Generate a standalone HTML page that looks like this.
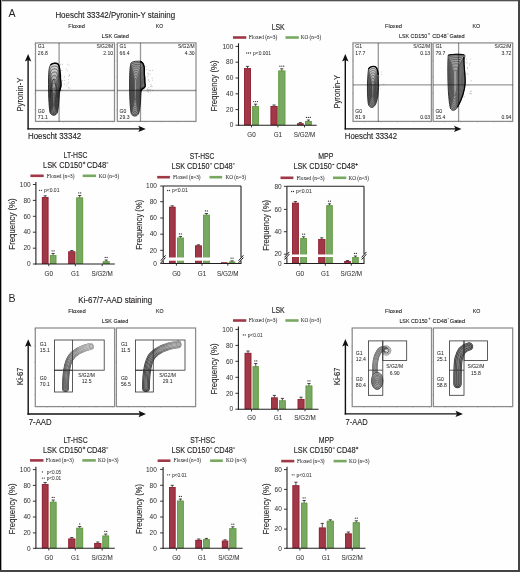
<!DOCTYPE html>
<html><head><meta charset="utf-8"><style>
html,body{margin:0;padding:0;background:#fff;overflow:hidden;width:520px;height:572px;}
svg{display:block;font-family:"Liberation Sans",sans-serif;will-change:transform;}
</style></head><body>
<svg width="520" height="572" viewBox="0 0 520 572">
<rect width="520" height="572" fill="#fefefe"/>
<defs><linearGradient id="gA" x1="0" y1="0" x2="0" y2="1"><stop offset="0" stop-color="#e0e0e0"/><stop offset="0.3" stop-color="#b0b0b0"/><stop offset="0.6" stop-color="#909090"/><stop offset="1" stop-color="#999"/></linearGradient><linearGradient id="gB" x1="0" y1="0" x2="0" y2="1"><stop offset="0" stop-color="#aaa"/><stop offset="0.5" stop-color="#999"/><stop offset="1" stop-color="#a0a0a0"/></linearGradient><linearGradient id="fade1" gradientUnits="userSpaceOnUse" x1="66" y1="372" x2="93" y2="346"><stop offset="0" stop-color="#fff" stop-opacity="0"/><stop offset="0.35" stop-color="#fff" stop-opacity="0.15"/><stop offset="1" stop-color="#fff" stop-opacity="0.6"/></linearGradient><linearGradient id="fade2" gradientUnits="userSpaceOnUse" x1="147" y1="370" x2="180" y2="344"><stop offset="0" stop-color="#fff" stop-opacity="0"/><stop offset="0.4" stop-color="#fff" stop-opacity="0.1"/><stop offset="1" stop-color="#fff" stop-opacity="0.5"/></linearGradient></defs>
<text x="8.40" y="16.50" font-size="10.6" text-anchor="start" fill="#231f20">A</text>
<text x="8.40" y="301.50" font-size="10.6" text-anchor="start" fill="#231f20">B</text>
<text x="115.30" y="18.00" font-size="9.0" text-anchor="middle" fill="#231f20" textLength="119.80" lengthAdjust="spacingAndGlyphs" stroke="#231f20" stroke-width="0.13">Hoescht 33342/Pyronin-Y staining</text>
<text x="76.60" y="27.80" font-size="6.2" text-anchor="middle" fill="#222" textLength="16.70" lengthAdjust="spacingAndGlyphs" stroke="#222" stroke-width="0.1">Floxed</text>
<text x="159.50" y="27.80" font-size="6.2" text-anchor="middle" fill="#222" textLength="7.30" lengthAdjust="spacingAndGlyphs" stroke="#222" stroke-width="0.1">KO</text>
<text x="115.30" y="38.20" font-size="6.2" text-anchor="middle" fill="#222" textLength="27.20" lengthAdjust="spacingAndGlyphs" stroke="#222" stroke-width="0.1">LSK Gated</text>
<circle cx="60.9" cy="87.7" r="0.45" fill="#8a8a8a"/>
<circle cx="67.5" cy="71.1" r="0.45" fill="#8a8a8a"/>
<circle cx="64.7" cy="76.6" r="0.45" fill="#8a8a8a"/>
<circle cx="66.3" cy="86.1" r="0.45" fill="#8a8a8a"/>
<circle cx="60.5" cy="64.8" r="0.45" fill="#8a8a8a"/>
<circle cx="68.3" cy="76.1" r="0.45" fill="#8a8a8a"/>
<circle cx="67.5" cy="64.1" r="0.45" fill="#8a8a8a"/>
<circle cx="64.2" cy="84.2" r="0.45" fill="#8a8a8a"/>
<circle cx="61.9" cy="90.5" r="0.45" fill="#8a8a8a"/>
<circle cx="69.0" cy="64.9" r="0.45" fill="#8a8a8a"/>
<circle cx="59.8" cy="79.2" r="0.45" fill="#8a8a8a"/>
<circle cx="69.4" cy="74.7" r="0.45" fill="#8a8a8a"/>
<circle cx="61.8" cy="75.8" r="0.45" fill="#8a8a8a"/>
<circle cx="59.8" cy="70.2" r="0.45" fill="#8a8a8a"/>
<circle cx="64.1" cy="77.9" r="0.45" fill="#8a8a8a"/>
<circle cx="61.9" cy="70.5" r="0.45" fill="#8a8a8a"/>
<circle cx="61.8" cy="76.9" r="0.45" fill="#8a8a8a"/>
<circle cx="62.5" cy="64.6" r="0.45" fill="#8a8a8a"/>
<circle cx="68.3" cy="79.6" r="0.45" fill="#8a8a8a"/>
<circle cx="66.2" cy="69.2" r="0.45" fill="#8a8a8a"/>
<circle cx="69.9" cy="88.1" r="0.45" fill="#8a8a8a"/>
<circle cx="60.8" cy="73.3" r="0.45" fill="#8a8a8a"/>
<circle cx="67.1" cy="83.9" r="0.45" fill="#8a8a8a"/>
<circle cx="69.3" cy="75.8" r="0.45" fill="#8a8a8a"/>
<circle cx="68.2" cy="82.8" r="0.45" fill="#8a8a8a"/>
<circle cx="62.7" cy="80.5" r="0.45" fill="#8a8a8a"/>
<circle cx="68.8" cy="87.7" r="0.45" fill="#8a8a8a"/>
<circle cx="64.8" cy="80.5" r="0.45" fill="#8a8a8a"/>
<path d="M50.5,65 C52,63 56.5,62.8 58,64 C59.8,66 60.2,72 60.4,78 C60.6,81 61.3,83 60.9,86 C60.5,88.5 59.8,90 59.5,93 C59,100 58.6,107 57.5,112 C56.5,116 51.5,116.5 50,112.5 C48.8,106 48.4,92 48.5,80 C48.6,72 49,67 50.5,65 Z" fill="url(#gA)" stroke="#111" stroke-width="0.8"/>
<path d="M50.5,65 C52,63 56.5,62.8 58,64 C59.8,66 60.2,72 60.4,78 C60.6,81 61.3,83 60.9,86 C60.5,88.5 59.8,90 59.5,93 C59,100 58.6,107 57.5,112 C56.5,116 51.5,116.5 50,112.5 C48.8,106 48.4,92 48.5,80 C48.6,72 49,67 50.5,65 Z" fill="none" stroke="#151515" stroke-width="0.59" transform="translate(53.8,103) scale(0.88,0.93) translate(-53.8,-103)"/>
<path d="M50.5,65 C52,63 56.5,62.8 58,64 C59.8,66 60.2,72 60.4,78 C60.6,81 61.3,83 60.9,86 C60.5,88.5 59.8,90 59.5,93 C59,100 58.6,107 57.5,112 C56.5,116 51.5,116.5 50,112.5 C48.8,106 48.4,92 48.5,80 C48.6,72 49,67 50.5,65 Z" fill="none" stroke="#151515" stroke-width="0.64" transform="translate(53.8,103) scale(0.76,0.86) translate(-53.8,-103)"/>
<path d="M50.5,65 C52,63 56.5,62.8 58,64 C59.8,66 60.2,72 60.4,78 C60.6,81 61.3,83 60.9,86 C60.5,88.5 59.8,90 59.5,93 C59,100 58.6,107 57.5,112 C56.5,116 51.5,116.5 50,112.5 C48.8,106 48.4,92 48.5,80 C48.6,72 49,67 50.5,65 Z" fill="none" stroke="#151515" stroke-width="0.71" transform="translate(53.8,103) scale(0.64,0.78) translate(-53.8,-103)"/>
<path d="M50.5,65 C52,63 56.5,62.8 58,64 C59.8,66 60.2,72 60.4,78 C60.6,81 61.3,83 60.9,86 C60.5,88.5 59.8,90 59.5,93 C59,100 58.6,107 57.5,112 C56.5,116 51.5,116.5 50,112.5 C48.8,106 48.4,92 48.5,80 C48.6,72 49,67 50.5,65 Z" fill="none" stroke="#151515" stroke-width="0.80" transform="translate(53.8,103) scale(0.53,0.69) translate(-53.8,-103)"/>
<path d="M50.5,65 C52,63 56.5,62.8 58,64 C59.8,66 60.2,72 60.4,78 C60.6,81 61.3,83 60.9,86 C60.5,88.5 59.8,90 59.5,93 C59,100 58.6,107 57.5,112 C56.5,116 51.5,116.5 50,112.5 C48.8,106 48.4,92 48.5,80 C48.6,72 49,67 50.5,65 Z" fill="none" stroke="#151515" stroke-width="0.92" transform="translate(53.8,103) scale(0.42,0.6) translate(-53.8,-103)"/>
<path d="M50.5,65 C52,63 56.5,62.8 58,64 C59.8,66 60.2,72 60.4,78 C60.6,81 61.3,83 60.9,86 C60.5,88.5 59.8,90 59.5,93 C59,100 58.6,107 57.5,112 C56.5,116 51.5,116.5 50,112.5 C48.8,106 48.4,92 48.5,80 C48.6,72 49,67 50.5,65 Z" fill="none" stroke="#151515" stroke-width="1.10" transform="translate(53.8,103) scale(0.32,0.5) translate(-53.8,-103)"/>
<path d="M50.5,65 C52,63 56.5,62.8 58,64 C59.8,66 60.2,72 60.4,78 C60.6,81 61.3,83 60.9,86 C60.5,88.5 59.8,90 59.5,93 C59,100 58.6,107 57.5,112 C56.5,116 51.5,116.5 50,112.5 C48.8,106 48.4,92 48.5,80 C48.6,72 49,67 50.5,65 Z" fill="none" stroke="#151515" stroke-width="1.45" transform="translate(53.8,103) scale(0.22,0.38) translate(-53.8,-103)"/>
<path d="M50.5,65 C52,63 56.5,62.8 58,64 C59.8,66 60.2,72 60.4,78 C60.6,81 61.3,83 60.9,86 C60.5,88.5 59.8,90 59.5,93 C59,100 58.6,107 57.5,112 C56.5,116 51.5,116.5 50,112.5 C48.8,106 48.4,92 48.5,80 C48.6,72 49,67 50.5,65 Z" fill="none" stroke="#151515" stroke-width="2.20" transform="translate(53.8,103) scale(0.13,0.25) translate(-53.8,-103)"/>
<path d="M50,98 C50.5,90 52,82 53.6,79 C55.5,82 57,90 57.5,98" fill="none" stroke="#222" stroke-width="0.6"/>
<path d="M50.5,65 C52,63 56.5,62.8 58,64 C59.8,66 60.2,72 60.4,78 C60.6,81 61.3,83 60.9,86 C60.5,88.5 60,89.5 59.6,91" fill="none" stroke="#000" stroke-width="1.4"/>
<circle cx="152.6" cy="90.6" r="0.45" fill="#8a8a8a"/>
<circle cx="144.5" cy="68.2" r="0.45" fill="#8a8a8a"/>
<circle cx="151.5" cy="85.1" r="0.45" fill="#8a8a8a"/>
<circle cx="150.0" cy="74.0" r="0.45" fill="#8a8a8a"/>
<circle cx="149.5" cy="81.8" r="0.45" fill="#8a8a8a"/>
<circle cx="149.2" cy="70.1" r="0.45" fill="#8a8a8a"/>
<circle cx="147.9" cy="76.2" r="0.45" fill="#8a8a8a"/>
<circle cx="150.5" cy="91.9" r="0.45" fill="#8a8a8a"/>
<circle cx="152.5" cy="80.1" r="0.45" fill="#8a8a8a"/>
<circle cx="148.0" cy="73.0" r="0.45" fill="#8a8a8a"/>
<circle cx="144.3" cy="66.7" r="0.45" fill="#8a8a8a"/>
<circle cx="148.2" cy="74.3" r="0.45" fill="#8a8a8a"/>
<circle cx="147.4" cy="89.2" r="0.45" fill="#8a8a8a"/>
<circle cx="148.7" cy="80.6" r="0.45" fill="#8a8a8a"/>
<circle cx="146.1" cy="66.6" r="0.45" fill="#8a8a8a"/>
<circle cx="146.9" cy="69.6" r="0.45" fill="#8a8a8a"/>
<circle cx="148.6" cy="92.0" r="0.45" fill="#8a8a8a"/>
<circle cx="150.1" cy="70.7" r="0.45" fill="#8a8a8a"/>
<circle cx="152.0" cy="86.7" r="0.45" fill="#8a8a8a"/>
<circle cx="150.6" cy="89.6" r="0.45" fill="#8a8a8a"/>
<circle cx="150.9" cy="86.5" r="0.45" fill="#8a8a8a"/>
<circle cx="147.2" cy="91.5" r="0.45" fill="#8a8a8a"/>
<circle cx="152.7" cy="70.2" r="0.45" fill="#8a8a8a"/>
<circle cx="150.8" cy="84.6" r="0.45" fill="#8a8a8a"/>
<circle cx="148.2" cy="79.8" r="0.45" fill="#8a8a8a"/>
<circle cx="148.4" cy="90.0" r="0.45" fill="#8a8a8a"/>
<circle cx="148.5" cy="87.6" r="0.45" fill="#8a8a8a"/>
<circle cx="147.2" cy="89.0" r="0.45" fill="#8a8a8a"/>
<circle cx="152.1" cy="78.0" r="0.45" fill="#8a8a8a"/>
<circle cx="149.1" cy="89.9" r="0.45" fill="#8a8a8a"/>
<path d="M131,63 C132,61.2 138,61 141,61.3 C143,62 143.8,64.5 144.2,67.5 C144.6,70 144,73 144.5,76 C145,79 144.5,81 145,83.5 C145.6,86 145.5,87.5 143,88.5 C141.3,89.5 141,92 140.8,96 C140.5,103 140,109 138.8,113 C137.5,117 132.5,117 131.2,113.5 C130,108 129.5,95 129.6,82 C129.6,73 130,66 131,63 Z" fill="url(#gB)" stroke="#111" stroke-width="0.8"/>
<path d="M131,63 C132,61.2 138,61 141,61.3 C143,62 143.8,64.5 144.2,67.5 C144.6,70 144,73 144.5,76 C145,79 144.5,81 145,83.5 C145.6,86 145.5,87.5 143,88.5 C141.3,89.5 141,92 140.8,96 C140.5,103 140,109 138.8,113 C137.5,117 132.5,117 131.2,113.5 C130,108 129.5,95 129.6,82 C129.6,73 130,66 131,63 Z" fill="none" stroke="#151515" stroke-width="0.58" transform="translate(135.2,90) scale(0.88,0.95) translate(-135.2,-90)"/>
<path d="M131,63 C132,61.2 138,61 141,61.3 C143,62 143.8,64.5 144.2,67.5 C144.6,70 144,73 144.5,76 C145,79 144.5,81 145,83.5 C145.6,86 145.5,87.5 143,88.5 C141.3,89.5 141,92 140.8,96 C140.5,103 140,109 138.8,113 C137.5,117 132.5,117 131.2,113.5 C130,108 129.5,95 129.6,82 C129.6,73 130,66 131,63 Z" fill="none" stroke="#151515" stroke-width="0.62" transform="translate(135.2,90) scale(0.76,0.89) translate(-135.2,-90)"/>
<path d="M131,63 C132,61.2 138,61 141,61.3 C143,62 143.8,64.5 144.2,67.5 C144.6,70 144,73 144.5,76 C145,79 144.5,81 145,83.5 C145.6,86 145.5,87.5 143,88.5 C141.3,89.5 141,92 140.8,96 C140.5,103 140,109 138.8,113 C137.5,117 132.5,117 131.2,113.5 C130,108 129.5,95 129.6,82 C129.6,73 130,66 131,63 Z" fill="none" stroke="#151515" stroke-width="0.66" transform="translate(135.2,90) scale(0.64,0.83) translate(-135.2,-90)"/>
<path d="M131,63 C132,61.2 138,61 141,61.3 C143,62 143.8,64.5 144.2,67.5 C144.6,70 144,73 144.5,76 C145,79 144.5,81 145,83.5 C145.6,86 145.5,87.5 143,88.5 C141.3,89.5 141,92 140.8,96 C140.5,103 140,109 138.8,113 C137.5,117 132.5,117 131.2,113.5 C130,108 129.5,95 129.6,82 C129.6,73 130,66 131,63 Z" fill="none" stroke="#151515" stroke-width="0.72" transform="translate(135.2,90) scale(0.53,0.76) translate(-135.2,-90)"/>
<path d="M131,63 C132,61.2 138,61 141,61.3 C143,62 143.8,64.5 144.2,67.5 C144.6,70 144,73 144.5,76 C145,79 144.5,81 145,83.5 C145.6,86 145.5,87.5 143,88.5 C141.3,89.5 141,92 140.8,96 C140.5,103 140,109 138.8,113 C137.5,117 132.5,117 131.2,113.5 C130,108 129.5,95 129.6,82 C129.6,73 130,66 131,63 Z" fill="none" stroke="#151515" stroke-width="0.81" transform="translate(135.2,90) scale(0.42,0.68) translate(-135.2,-90)"/>
<path d="M131,63 C132,61.2 138,61 141,61.3 C143,62 143.8,64.5 144.2,67.5 C144.6,70 144,73 144.5,76 C145,79 144.5,81 145,83.5 C145.6,86 145.5,87.5 143,88.5 C141.3,89.5 141,92 140.8,96 C140.5,103 140,109 138.8,113 C137.5,117 132.5,117 131.2,113.5 C130,108 129.5,95 129.6,82 C129.6,73 130,66 131,63 Z" fill="none" stroke="#151515" stroke-width="0.92" transform="translate(135.2,90) scale(0.32,0.6) translate(-135.2,-90)"/>
<path d="M131,63 C132,61.2 138,61 141,61.3 C143,62 143.8,64.5 144.2,67.5 C144.6,70 144,73 144.5,76 C145,79 144.5,81 145,83.5 C145.6,86 145.5,87.5 143,88.5 C141.3,89.5 141,92 140.8,96 C140.5,103 140,109 138.8,113 C137.5,117 132.5,117 131.2,113.5 C130,108 129.5,95 129.6,82 C129.6,73 130,66 131,63 Z" fill="none" stroke="#151515" stroke-width="1.10" transform="translate(135.2,90) scale(0.22,0.5) translate(-135.2,-90)"/>
<path d="M131,63 C132,61.2 138,61 141,61.3 C143,62 143.8,64.5 144.2,67.5 C144.6,70 144,73 144.5,76 C145,79 144.5,81 145,83.5 C145.6,86 145.5,87.5 143,88.5 C141.3,89.5 141,92 140.8,96 C140.5,103 140,109 138.8,113 C137.5,117 132.5,117 131.2,113.5 C130,108 129.5,95 129.6,82 C129.6,73 130,66 131,63 Z" fill="none" stroke="#151515" stroke-width="1.38" transform="translate(135.2,90) scale(0.13,0.4) translate(-135.2,-90)"/>
<path d="M140,61.5 C143,62 143.8,64.5 144.2,67.5 C144.6,70 144,73 144.5,76 C145,79 144.5,81 145,83.5 C145.6,86 145.5,87.5 143,88.5 C141.5,89.2 141,90 140.8,91" fill="none" stroke="#000" stroke-width="1.4"/>
<rect x="35.50" y="42.90" width="79.00" height="78.50" fill="none" stroke="#8c8c8c" stroke-width="1.25"/>
<line x1="47.30" y1="121.40" x2="47.30" y2="122.40" stroke="#888" stroke-width="0.5"/>
<line x1="63.60" y1="121.40" x2="63.60" y2="122.40" stroke="#888" stroke-width="0.5"/>
<line x1="79.90" y1="121.40" x2="79.90" y2="122.40" stroke="#888" stroke-width="0.5"/>
<line x1="96.20" y1="121.40" x2="96.20" y2="122.40" stroke="#888" stroke-width="0.5"/>
<line x1="112.50" y1="121.40" x2="112.50" y2="122.40" stroke="#888" stroke-width="0.5"/>
<line x1="34.50" y1="109.60" x2="35.50" y2="109.60" stroke="#888" stroke-width="0.5"/>
<line x1="34.50" y1="93.30" x2="35.50" y2="93.30" stroke="#888" stroke-width="0.5"/>
<line x1="34.50" y1="77.00" x2="35.50" y2="77.00" stroke="#888" stroke-width="0.5"/>
<line x1="34.50" y1="60.70" x2="35.50" y2="60.70" stroke="#888" stroke-width="0.5"/>
<line x1="34.50" y1="44.40" x2="35.50" y2="44.40" stroke="#888" stroke-width="0.5"/>
<line x1="59.10" y1="42.90" x2="59.10" y2="121.40" stroke="#000" stroke-width="1.3" stroke-opacity="0.4"/>
<line x1="35.50" y1="90.50" x2="114.50" y2="90.50" stroke="#000" stroke-width="1.3" stroke-opacity="0.4"/>
<text x="37.80" y="48.30" font-size="5.1" text-anchor="start" fill="#2a2a2a" stroke="#2a2a2a" stroke-width="0.04">G1</text>
<text x="37.80" y="54.50" font-size="5.1" text-anchor="start" fill="#2a2a2a" stroke="#2a2a2a" stroke-width="0.04">26.8</text>
<text x="113.20" y="48.30" font-size="5.1" text-anchor="end" fill="#2a2a2a" textLength="16.80" lengthAdjust="spacingAndGlyphs" stroke="#2a2a2a" stroke-width="0.04">S/G2/M</text>
<text x="113.20" y="54.50" font-size="5.1" text-anchor="end" fill="#2a2a2a" stroke="#2a2a2a" stroke-width="0.04">2.10</text>
<text x="37.80" y="113.10" font-size="5.1" text-anchor="start" fill="#2a2a2a" stroke="#2a2a2a" stroke-width="0.04">G0</text>
<text x="37.80" y="119.30" font-size="5.1" text-anchor="start" fill="#2a2a2a" stroke="#2a2a2a" stroke-width="0.04">71.1</text>
<rect x="117.30" y="42.90" width="78.70" height="78.50" fill="none" stroke="#8c8c8c" stroke-width="1.25"/>
<line x1="129.10" y1="121.40" x2="129.10" y2="122.40" stroke="#888" stroke-width="0.5"/>
<line x1="145.40" y1="121.40" x2="145.40" y2="122.40" stroke="#888" stroke-width="0.5"/>
<line x1="161.70" y1="121.40" x2="161.70" y2="122.40" stroke="#888" stroke-width="0.5"/>
<line x1="178.00" y1="121.40" x2="178.00" y2="122.40" stroke="#888" stroke-width="0.5"/>
<line x1="194.30" y1="121.40" x2="194.30" y2="122.40" stroke="#888" stroke-width="0.5"/>
<line x1="116.30" y1="109.60" x2="117.30" y2="109.60" stroke="#888" stroke-width="0.5"/>
<line x1="116.30" y1="93.30" x2="117.30" y2="93.30" stroke="#888" stroke-width="0.5"/>
<line x1="116.30" y1="77.00" x2="117.30" y2="77.00" stroke="#888" stroke-width="0.5"/>
<line x1="116.30" y1="60.70" x2="117.30" y2="60.70" stroke="#888" stroke-width="0.5"/>
<line x1="116.30" y1="44.40" x2="117.30" y2="44.40" stroke="#888" stroke-width="0.5"/>
<line x1="140.50" y1="42.90" x2="140.50" y2="121.40" stroke="#000" stroke-width="1.3" stroke-opacity="0.4"/>
<line x1="117.30" y1="90.50" x2="196.00" y2="90.50" stroke="#000" stroke-width="1.3" stroke-opacity="0.4"/>
<text x="119.60" y="48.30" font-size="5.1" text-anchor="start" fill="#2a2a2a" stroke="#2a2a2a" stroke-width="0.04">G1</text>
<text x="119.60" y="54.50" font-size="5.1" text-anchor="start" fill="#2a2a2a" stroke="#2a2a2a" stroke-width="0.04">66.4</text>
<text x="194.70" y="48.30" font-size="5.1" text-anchor="end" fill="#2a2a2a" textLength="16.80" lengthAdjust="spacingAndGlyphs" stroke="#2a2a2a" stroke-width="0.04">S/G2/M</text>
<text x="194.70" y="54.50" font-size="5.1" text-anchor="end" fill="#2a2a2a" stroke="#2a2a2a" stroke-width="0.04">4.30</text>
<text x="119.60" y="113.10" font-size="5.1" text-anchor="start" fill="#2a2a2a" stroke="#2a2a2a" stroke-width="0.04">G0</text>
<text x="119.60" y="119.30" font-size="5.1" text-anchor="start" fill="#2a2a2a" stroke="#2a2a2a" stroke-width="0.04">29.3</text>
<line x1="28.10" y1="59.10" x2="28.10" y2="129.60" stroke="#111" stroke-width="1.4"/>
<line x1="27.40" y1="128.90" x2="140.80" y2="128.90" stroke="#111" stroke-width="1.4"/>
<path d="M28.10,54.10 L24.90,61.60 L28.10,60.10 L31.30,61.60 Z" fill="#111"/>
<path d="M145.80,128.90 L138.30,125.70 L139.80,128.90 L138.30,132.10 Z" fill="#111"/>
<text transform="translate(23.40,94.60) rotate(-90)" x="0" y="0" font-size="8.8" text-anchor="middle" fill="#231f20" stroke="#231f20" stroke-width="0.12" textLength="34.00" lengthAdjust="spacingAndGlyphs">Pyronin-Y</text>
<text x="28.00" y="139.20" font-size="9.0" text-anchor="start" fill="#231f20" textLength="53.20" lengthAdjust="spacingAndGlyphs" stroke="#231f20" stroke-width="0.13">Hoescht 33342</text>
<text x="393.50" y="27.80" font-size="6.2" text-anchor="middle" fill="#222" textLength="17.00" lengthAdjust="spacingAndGlyphs" stroke="#222" stroke-width="0.1">Floxed</text>
<text x="476.20" y="27.80" font-size="6.2" text-anchor="middle" fill="#222" textLength="7.60" lengthAdjust="spacingAndGlyphs" stroke="#222" stroke-width="0.1">KO</text>
<text x="399.00" y="38.00" font-size="6.0" text-anchor="start" fill="#222" textLength="28.20" lengthAdjust="spacingAndGlyphs" stroke="#222" stroke-width="0.1">LSK CD150</text>
<line x1="428.20" y1="33.90" x2="429.90" y2="33.90" stroke="#333" stroke-width="0.6"/>
<line x1="429.05" y1="33.05" x2="429.05" y2="34.75" stroke="#333" stroke-width="0.6"/>
<text x="432.20" y="38.00" font-size="6.0" text-anchor="start" fill="#222" textLength="14.50" lengthAdjust="spacingAndGlyphs" stroke="#222" stroke-width="0.1">CD48</text>
<line x1="447.30" y1="33.90" x2="448.60" y2="33.90" stroke="#333" stroke-width="0.6"/>
<text x="449.40" y="38.00" font-size="6.0" text-anchor="start" fill="#222" textLength="15.30" lengthAdjust="spacingAndGlyphs" stroke="#222" stroke-width="0.1">Gated</text>
<circle cx="379.4" cy="86.3" r="0.45" fill="#aaa"/>
<circle cx="380.2" cy="88.1" r="0.45" fill="#aaa"/>
<circle cx="381.8" cy="72.0" r="0.45" fill="#aaa"/>
<circle cx="378.1" cy="95.1" r="0.45" fill="#aaa"/>
<circle cx="379.6" cy="77.0" r="0.45" fill="#aaa"/>
<circle cx="384.0" cy="84.1" r="0.45" fill="#aaa"/>
<circle cx="383.0" cy="84.3" r="0.45" fill="#aaa"/>
<circle cx="381.8" cy="74.5" r="0.45" fill="#aaa"/>
<path d="M368.5,69 C369.5,66.3 374,65.8 376,67.2 C377.8,69 378.3,76 378.5,84 C378.6,93 377.5,100 375.5,104.5 C373.5,108.5 369.5,108.5 368.3,104 C367.2,97 367,80 368.5,69 Z" fill="url(#gA)" stroke="#111" stroke-width="0.8"/>
<path d="M368.5,69 C369.5,66.3 374,65.8 376,67.2 C377.8,69 378.3,76 378.5,84 C378.6,93 377.5,100 375.5,104.5 C373.5,108.5 369.5,108.5 368.3,104 C367.2,97 367,80 368.5,69 Z" fill="none" stroke="#151515" stroke-width="0.60" transform="translate(372.8,92) scale(0.86,0.92) translate(-372.8,-92)"/>
<path d="M368.5,69 C369.5,66.3 374,65.8 376,67.2 C377.8,69 378.3,76 378.5,84 C378.6,93 377.5,100 375.5,104.5 C373.5,108.5 369.5,108.5 368.3,104 C367.2,97 367,80 368.5,69 Z" fill="none" stroke="#151515" stroke-width="0.65" transform="translate(372.8,92) scale(0.72,0.84) translate(-372.8,-92)"/>
<path d="M368.5,69 C369.5,66.3 374,65.8 376,67.2 C377.8,69 378.3,76 378.5,84 C378.6,93 377.5,100 375.5,104.5 C373.5,108.5 369.5,108.5 368.3,104 C367.2,97 367,80 368.5,69 Z" fill="none" stroke="#151515" stroke-width="0.73" transform="translate(372.8,92) scale(0.59,0.75) translate(-372.8,-92)"/>
<path d="M368.5,69 C369.5,66.3 374,65.8 376,67.2 C377.8,69 378.3,76 378.5,84 C378.6,93 377.5,100 375.5,104.5 C373.5,108.5 369.5,108.5 368.3,104 C367.2,97 367,80 368.5,69 Z" fill="none" stroke="#151515" stroke-width="0.85" transform="translate(372.8,92) scale(0.47,0.65) translate(-372.8,-92)"/>
<path d="M368.5,69 C369.5,66.3 374,65.8 376,67.2 C377.8,69 378.3,76 378.5,84 C378.6,93 377.5,100 375.5,104.5 C373.5,108.5 369.5,108.5 368.3,104 C367.2,97 367,80 368.5,69 Z" fill="none" stroke="#151515" stroke-width="1.02" transform="translate(372.8,92) scale(0.35,0.54) translate(-372.8,-92)"/>
<path d="M368.5,69 C369.5,66.3 374,65.8 376,67.2 C377.8,69 378.3,76 378.5,84 C378.6,93 377.5,100 375.5,104.5 C373.5,108.5 369.5,108.5 368.3,104 C367.2,97 367,80 368.5,69 Z" fill="none" stroke="#151515" stroke-width="1.31" transform="translate(372.8,92) scale(0.24,0.42) translate(-372.8,-92)"/>
<path d="M368.5,69 C369.5,66.3 374,65.8 376,67.2 C377.8,69 378.3,76 378.5,84 C378.6,93 377.5,100 375.5,104.5 C373.5,108.5 369.5,108.5 368.3,104 C367.2,97 367,80 368.5,69 Z" fill="none" stroke="#151515" stroke-width="1.83" transform="translate(372.8,92) scale(0.14,0.3) translate(-372.8,-92)"/>
<path d="M368.5,69 C369.5,66.3 374,65.8 376,67.2 C377.5,68.5 378,71 378.3,75" fill="none" stroke="#000" stroke-width="1.3"/>
<circle cx="464.4" cy="59.6" r="0.45" fill="#8a8a8a"/>
<circle cx="466.0" cy="62.0" r="0.45" fill="#8a8a8a"/>
<circle cx="462.7" cy="73.1" r="0.45" fill="#8a8a8a"/>
<circle cx="471.2" cy="91.0" r="0.45" fill="#8a8a8a"/>
<circle cx="469.7" cy="65.0" r="0.45" fill="#8a8a8a"/>
<circle cx="467.4" cy="67.5" r="0.45" fill="#8a8a8a"/>
<circle cx="463.7" cy="59.8" r="0.45" fill="#8a8a8a"/>
<circle cx="464.1" cy="96.7" r="0.45" fill="#8a8a8a"/>
<circle cx="470.3" cy="91.3" r="0.45" fill="#8a8a8a"/>
<circle cx="470.0" cy="63.7" r="0.45" fill="#8a8a8a"/>
<circle cx="465.1" cy="83.2" r="0.45" fill="#8a8a8a"/>
<circle cx="469.3" cy="93.5" r="0.45" fill="#8a8a8a"/>
<circle cx="470.8" cy="58.9" r="0.45" fill="#8a8a8a"/>
<circle cx="468.1" cy="85.2" r="0.45" fill="#8a8a8a"/>
<circle cx="467.1" cy="63.0" r="0.45" fill="#8a8a8a"/>
<circle cx="466.7" cy="59.0" r="0.45" fill="#8a8a8a"/>
<circle cx="471.3" cy="93.9" r="0.45" fill="#8a8a8a"/>
<circle cx="467.5" cy="68.5" r="0.45" fill="#8a8a8a"/>
<circle cx="471.1" cy="80.8" r="0.45" fill="#8a8a8a"/>
<circle cx="470.8" cy="93.2" r="0.45" fill="#8a8a8a"/>
<circle cx="467.1" cy="73.6" r="0.45" fill="#8a8a8a"/>
<circle cx="468.0" cy="74.4" r="0.45" fill="#8a8a8a"/>
<path d="M448.2,55.5 C448.5,54.3 462,54 464.2,54.8 C465.6,55.6 464.6,57.5 464,59 C463.8,67 465.2,74 465.2,82 C464.8,91 461,101 457.5,107 C455.5,111.2 451.5,111.3 450.3,108 C448.5,100 447.8,85 447.8,70 C447.8,62 448,57 448.2,55.5 Z" fill="url(#gB)" stroke="#111" stroke-width="0.8"/>
<path d="M448.2,55.5 C448.5,54.3 462,54 464.2,54.8 C465.6,55.6 464.6,57.5 464,59 C463.8,67 465.2,74 465.2,82 C464.8,91 461,101 457.5,107 C455.5,111.2 451.5,111.3 450.3,108 C448.5,100 447.8,85 447.8,70 C447.8,62 448,57 448.2,55.5 Z" fill="none" stroke="#151515" stroke-width="0.58" transform="translate(455,84) scale(0.88,0.95) translate(-455,-84)"/>
<path d="M448.2,55.5 C448.5,54.3 462,54 464.2,54.8 C465.6,55.6 464.6,57.5 464,59 C463.8,67 465.2,74 465.2,82 C464.8,91 461,101 457.5,107 C455.5,111.2 451.5,111.3 450.3,108 C448.5,100 447.8,85 447.8,70 C447.8,62 448,57 448.2,55.5 Z" fill="none" stroke="#151515" stroke-width="0.62" transform="translate(455,84) scale(0.76,0.89) translate(-455,-84)"/>
<path d="M448.2,55.5 C448.5,54.3 462,54 464.2,54.8 C465.6,55.6 464.6,57.5 464,59 C463.8,67 465.2,74 465.2,82 C464.8,91 461,101 457.5,107 C455.5,111.2 451.5,111.3 450.3,108 C448.5,100 447.8,85 447.8,70 C447.8,62 448,57 448.2,55.5 Z" fill="none" stroke="#151515" stroke-width="0.66" transform="translate(455,84) scale(0.64,0.83) translate(-455,-84)"/>
<path d="M448.2,55.5 C448.5,54.3 462,54 464.2,54.8 C465.6,55.6 464.6,57.5 464,59 C463.8,67 465.2,74 465.2,82 C464.8,91 461,101 457.5,107 C455.5,111.2 451.5,111.3 450.3,108 C448.5,100 447.8,85 447.8,70 C447.8,62 448,57 448.2,55.5 Z" fill="none" stroke="#151515" stroke-width="0.72" transform="translate(455,84) scale(0.52,0.76) translate(-455,-84)"/>
<path d="M448.2,55.5 C448.5,54.3 462,54 464.2,54.8 C465.6,55.6 464.6,57.5 464,59 C463.8,67 465.2,74 465.2,82 C464.8,91 461,101 457.5,107 C455.5,111.2 451.5,111.3 450.3,108 C448.5,100 447.8,85 447.8,70 C447.8,62 448,57 448.2,55.5 Z" fill="none" stroke="#151515" stroke-width="0.81" transform="translate(455,84) scale(0.41,0.68) translate(-455,-84)"/>
<path d="M448.2,55.5 C448.5,54.3 462,54 464.2,54.8 C465.6,55.6 464.6,57.5 464,59 C463.8,67 465.2,74 465.2,82 C464.8,91 461,101 457.5,107 C455.5,111.2 451.5,111.3 450.3,108 C448.5,100 447.8,85 447.8,70 C447.8,62 448,57 448.2,55.5 Z" fill="none" stroke="#151515" stroke-width="0.95" transform="translate(455,84) scale(0.3,0.58) translate(-455,-84)"/>
<path d="M448.2,55.5 C448.5,54.3 462,54 464.2,54.8 C465.6,55.6 464.6,57.5 464,59 C463.8,67 465.2,74 465.2,82 C464.8,91 461,101 457.5,107 C455.5,111.2 451.5,111.3 450.3,108 C448.5,100 447.8,85 447.8,70 C447.8,62 448,57 448.2,55.5 Z" fill="none" stroke="#151515" stroke-width="1.20" transform="translate(455,84) scale(0.2,0.46) translate(-455,-84)"/>
<path d="M448.2,55.5 C448.5,54.3 462,54 464.2,54.8" fill="none" stroke="#111" stroke-width="1.3"/>
<path d="M463.8,57 C463.8,67 465.2,74 465.2,82 C464.8,91 461,101 457.5,107" fill="none" stroke="#000" stroke-width="1.2"/>
<rect x="353.00" y="42.90" width="78.40" height="78.50" fill="none" stroke="#8c8c8c" stroke-width="1.25"/>
<line x1="364.80" y1="121.40" x2="364.80" y2="122.40" stroke="#888" stroke-width="0.5"/>
<line x1="381.10" y1="121.40" x2="381.10" y2="122.40" stroke="#888" stroke-width="0.5"/>
<line x1="397.40" y1="121.40" x2="397.40" y2="122.40" stroke="#888" stroke-width="0.5"/>
<line x1="413.70" y1="121.40" x2="413.70" y2="122.40" stroke="#888" stroke-width="0.5"/>
<line x1="430.00" y1="121.40" x2="430.00" y2="122.40" stroke="#888" stroke-width="0.5"/>
<line x1="352.00" y1="109.60" x2="353.00" y2="109.60" stroke="#888" stroke-width="0.5"/>
<line x1="352.00" y1="93.30" x2="353.00" y2="93.30" stroke="#888" stroke-width="0.5"/>
<line x1="352.00" y1="77.00" x2="353.00" y2="77.00" stroke="#888" stroke-width="0.5"/>
<line x1="352.00" y1="60.70" x2="353.00" y2="60.70" stroke="#888" stroke-width="0.5"/>
<line x1="352.00" y1="44.40" x2="353.00" y2="44.40" stroke="#888" stroke-width="0.5"/>
<line x1="378.30" y1="42.90" x2="378.30" y2="121.40" stroke="#000" stroke-width="1.3" stroke-opacity="0.4"/>
<line x1="353.00" y1="84.90" x2="431.40" y2="84.90" stroke="#000" stroke-width="1.3" stroke-opacity="0.4"/>
<text x="355.30" y="48.30" font-size="5.1" text-anchor="start" fill="#2a2a2a" stroke="#2a2a2a" stroke-width="0.04">G1</text>
<text x="355.30" y="54.50" font-size="5.1" text-anchor="start" fill="#2a2a2a" stroke="#2a2a2a" stroke-width="0.04">17.7</text>
<text x="430.10" y="48.30" font-size="5.1" text-anchor="end" fill="#2a2a2a" textLength="16.80" lengthAdjust="spacingAndGlyphs" stroke="#2a2a2a" stroke-width="0.04">S/G2/M</text>
<text x="430.10" y="54.50" font-size="5.1" text-anchor="end" fill="#2a2a2a" stroke="#2a2a2a" stroke-width="0.04">0.13</text>
<text x="355.30" y="113.10" font-size="5.1" text-anchor="start" fill="#2a2a2a" stroke="#2a2a2a" stroke-width="0.04">G0</text>
<text x="355.30" y="119.30" font-size="5.1" text-anchor="start" fill="#2a2a2a" stroke="#2a2a2a" stroke-width="0.04">81.9</text>
<text x="430.10" y="119.30" font-size="5.1" text-anchor="end" fill="#2a2a2a" stroke="#2a2a2a" stroke-width="0.04">0.03</text>
<rect x="433.10" y="42.90" width="79.60" height="78.50" fill="none" stroke="#8c8c8c" stroke-width="1.25"/>
<line x1="444.90" y1="121.40" x2="444.90" y2="122.40" stroke="#888" stroke-width="0.5"/>
<line x1="461.20" y1="121.40" x2="461.20" y2="122.40" stroke="#888" stroke-width="0.5"/>
<line x1="477.50" y1="121.40" x2="477.50" y2="122.40" stroke="#888" stroke-width="0.5"/>
<line x1="493.80" y1="121.40" x2="493.80" y2="122.40" stroke="#888" stroke-width="0.5"/>
<line x1="510.10" y1="121.40" x2="510.10" y2="122.40" stroke="#888" stroke-width="0.5"/>
<line x1="432.10" y1="109.60" x2="433.10" y2="109.60" stroke="#888" stroke-width="0.5"/>
<line x1="432.10" y1="93.30" x2="433.10" y2="93.30" stroke="#888" stroke-width="0.5"/>
<line x1="432.10" y1="77.00" x2="433.10" y2="77.00" stroke="#888" stroke-width="0.5"/>
<line x1="432.10" y1="60.70" x2="433.10" y2="60.70" stroke="#888" stroke-width="0.5"/>
<line x1="432.10" y1="44.40" x2="433.10" y2="44.40" stroke="#888" stroke-width="0.5"/>
<line x1="458.60" y1="42.90" x2="458.60" y2="121.40" stroke="#000" stroke-width="1.3" stroke-opacity="0.4"/>
<line x1="433.10" y1="84.90" x2="512.70" y2="84.90" stroke="#000" stroke-width="1.3" stroke-opacity="0.4"/>
<text x="435.40" y="48.30" font-size="5.1" text-anchor="start" fill="#2a2a2a" stroke="#2a2a2a" stroke-width="0.04">G1</text>
<text x="435.40" y="54.50" font-size="5.1" text-anchor="start" fill="#2a2a2a" stroke="#2a2a2a" stroke-width="0.04">79.7</text>
<text x="511.40" y="48.30" font-size="5.1" text-anchor="end" fill="#2a2a2a" textLength="16.80" lengthAdjust="spacingAndGlyphs" stroke="#2a2a2a" stroke-width="0.04">S/G2/M</text>
<text x="511.40" y="54.50" font-size="5.1" text-anchor="end" fill="#2a2a2a" stroke="#2a2a2a" stroke-width="0.04">3.72</text>
<text x="435.40" y="113.10" font-size="5.1" text-anchor="start" fill="#2a2a2a" stroke="#2a2a2a" stroke-width="0.04">G0</text>
<text x="435.40" y="119.30" font-size="5.1" text-anchor="start" fill="#2a2a2a" stroke="#2a2a2a" stroke-width="0.04">15.4</text>
<text x="511.40" y="119.30" font-size="5.1" text-anchor="end" fill="#2a2a2a" stroke="#2a2a2a" stroke-width="0.04">0.94</text>
<line x1="345.30" y1="59.10" x2="345.30" y2="129.60" stroke="#111" stroke-width="1.4"/>
<line x1="344.60" y1="128.90" x2="456.50" y2="128.90" stroke="#111" stroke-width="1.4"/>
<path d="M345.30,54.10 L342.10,61.60 L345.30,60.10 L348.50,61.60 Z" fill="#111"/>
<path d="M461.50,128.90 L454.00,125.70 L455.50,128.90 L454.00,132.10 Z" fill="#111"/>
<text transform="translate(340.00,91.80) rotate(-90)" x="0" y="0" font-size="8.8" text-anchor="middle" fill="#231f20" stroke="#231f20" stroke-width="0.12" textLength="33.60" lengthAdjust="spacingAndGlyphs">Pyronin-Y</text>
<text x="344.80" y="139.30" font-size="9.0" text-anchor="start" fill="#231f20" textLength="52.20" lengthAdjust="spacingAndGlyphs" stroke="#231f20" stroke-width="0.13">Hoescht 33342</text>
<text x="115.20" y="302.60" font-size="9.0" text-anchor="middle" fill="#231f20" textLength="73.80" lengthAdjust="spacingAndGlyphs" stroke="#231f20" stroke-width="0.13">Ki-67/7-AAD staining</text>
<text x="76.90" y="313.00" font-size="6.2" text-anchor="middle" fill="#222" textLength="17.50" lengthAdjust="spacingAndGlyphs" stroke="#222" stroke-width="0.1">Floxed</text>
<text x="159.90" y="313.00" font-size="6.2" text-anchor="middle" fill="#222" textLength="7.60" lengthAdjust="spacingAndGlyphs" stroke="#222" stroke-width="0.1">KO</text>
<text x="115.00" y="323.00" font-size="6.2" text-anchor="middle" fill="#222" textLength="26.60" lengthAdjust="spacingAndGlyphs" stroke="#222" stroke-width="0.1">LSK Gated</text>
<path d="M65.5,388.5 C65.5,377 66,365 70.5,358 C75,351.5 82,348.3 90.5,346.4" fill="none" stroke="#2a2a2a" stroke-width="6.8" stroke-linecap="round" stroke-linejoin="round"/>
<path d="M65.5,388.5 C65.5,377 66,365 70.5,358 C75,351.5 82,348.3 90.5,346.4" fill="none" stroke="#8a8a8a" stroke-width="5.8" stroke-linecap="round" stroke-linejoin="round"/>
<path d="M65.5,388.5 C65.5,377 66,365 70.5,358 C75,351.5 82,348.3 90.5,346.4" fill="none" stroke="#3a3a3a" stroke-width="4.8" stroke-linecap="round" stroke-linejoin="round"/>
<path d="M65.5,388.5 C65.5,377 66,365 70.5,358 C75,351.5 82,348.3 90.5,346.4" fill="none" stroke="#9a9a9a" stroke-width="3.8" stroke-linecap="round" stroke-linejoin="round"/>
<path d="M65.5,388.5 C65.5,377 66,365 70.5,358 C75,351.5 82,348.3 90.5,346.4" fill="none" stroke="#444" stroke-width="2.8" stroke-linecap="round" stroke-linejoin="round"/>
<path d="M65.5,388.5 C65.5,377 66,365 70.5,358 C75,351.5 82,348.3 90.5,346.4" fill="none" stroke="#aaa" stroke-width="1.8" stroke-linecap="round" stroke-linejoin="round"/>
<path d="M65.5,388.5 C65.5,377 66,365 70.5,358 C75,351.5 82,348.3 90.5,346.4" fill="none" stroke="#555" stroke-width="0.8" stroke-linecap="round" stroke-linejoin="round"/>
<path d="M65.5,388.5 C65.5,377 66,365 70.5,358 C75,351.5 82,348.3 90.5,346.4" fill="none" stroke="url(#fade1)" stroke-width="7.2" stroke-linecap="round"/>
<circle cx="91.2" cy="346.2" r="2.0" fill="none" stroke="#777" stroke-width="0.5"/>
<path d="M146,388 C146,375 147,363 152,356 C158,349.3 167,345.8 177.5,344.5" fill="none" stroke="#262626" stroke-width="7.8" stroke-linecap="round" stroke-linejoin="round"/>
<path d="M146,388 C146,375 147,363 152,356 C158,349.3 167,345.8 177.5,344.5" fill="none" stroke="#7a7a7a" stroke-width="6.6" stroke-linecap="round" stroke-linejoin="round"/>
<path d="M146,388 C146,375 147,363 152,356 C158,349.3 167,345.8 177.5,344.5" fill="none" stroke="#2e2e2e" stroke-width="5.4" stroke-linecap="round" stroke-linejoin="round"/>
<path d="M146,388 C146,375 147,363 152,356 C158,349.3 167,345.8 177.5,344.5" fill="none" stroke="#8a8a8a" stroke-width="4.2" stroke-linecap="round" stroke-linejoin="round"/>
<path d="M146,388 C146,375 147,363 152,356 C158,349.3 167,345.8 177.5,344.5" fill="none" stroke="#333" stroke-width="3.0" stroke-linecap="round" stroke-linejoin="round"/>
<path d="M146,388 C146,375 147,363 152,356 C158,349.3 167,345.8 177.5,344.5" fill="none" stroke="#9a9a9a" stroke-width="1.8" stroke-linecap="round" stroke-linejoin="round"/>
<path d="M146,388 C146,375 147,363 152,356 C158,349.3 167,345.8 177.5,344.5" fill="none" stroke="#444" stroke-width="0.7" stroke-linecap="round" stroke-linejoin="round"/>
<path d="M146,388 C146,375 147,363 152,356 C158,349.3 167,345.8 177.5,344.5" fill="none" stroke="url(#fade2)" stroke-width="8.2" stroke-linecap="round"/>
<circle cx="178.6" cy="344.4" r="2.4" fill="none" stroke="#777" stroke-width="0.5"/>
<rect x="35.30" y="328.00" width="79.30" height="78.60" fill="none" stroke="#8c8c8c" stroke-width="1.25"/>
<line x1="47.10" y1="406.60" x2="47.10" y2="407.60" stroke="#888" stroke-width="0.5"/>
<line x1="63.40" y1="406.60" x2="63.40" y2="407.60" stroke="#888" stroke-width="0.5"/>
<line x1="79.70" y1="406.60" x2="79.70" y2="407.60" stroke="#888" stroke-width="0.5"/>
<line x1="96.00" y1="406.60" x2="96.00" y2="407.60" stroke="#888" stroke-width="0.5"/>
<line x1="112.30" y1="406.60" x2="112.30" y2="407.60" stroke="#888" stroke-width="0.5"/>
<line x1="34.30" y1="394.80" x2="35.30" y2="394.80" stroke="#888" stroke-width="0.5"/>
<line x1="34.30" y1="378.50" x2="35.30" y2="378.50" stroke="#888" stroke-width="0.5"/>
<line x1="34.30" y1="362.20" x2="35.30" y2="362.20" stroke="#888" stroke-width="0.5"/>
<line x1="34.30" y1="345.90" x2="35.30" y2="345.90" stroke="#888" stroke-width="0.5"/>
<line x1="34.30" y1="329.60" x2="35.30" y2="329.60" stroke="#888" stroke-width="0.5"/>
<rect x="54.50" y="340.00" width="49.70" height="30.20" fill="none" stroke="#333" stroke-width="0.8"/>
<rect x="54.50" y="370.20" width="18.00" height="21.80" fill="none" stroke="#333" stroke-width="0.8"/>
<line x1="72.50" y1="340.00" x2="72.50" y2="370.20" stroke="#333" stroke-width="0.8"/>
<text x="39.80" y="345.60" font-size="5.1" text-anchor="start" fill="#2a2a2a" stroke="#2a2a2a" stroke-width="0.04">G1</text>
<text x="39.80" y="351.80" font-size="5.1" text-anchor="start" fill="#2a2a2a" stroke="#2a2a2a" stroke-width="0.04">15.1</text>
<text x="39.80" y="380.40" font-size="5.1" text-anchor="start" fill="#2a2a2a" stroke="#2a2a2a" stroke-width="0.04">G0</text>
<text x="39.80" y="386.40" font-size="5.1" text-anchor="start" fill="#2a2a2a" stroke="#2a2a2a" stroke-width="0.04">70.1</text>
<text x="86.60" y="377.30" font-size="5.1" text-anchor="middle" fill="#2a2a2a" textLength="16.80" lengthAdjust="spacingAndGlyphs" stroke="#2a2a2a" stroke-width="0.04">S/G2/M</text>
<text x="86.60" y="383.20" font-size="5.1" text-anchor="middle" fill="#2a2a2a" stroke="#2a2a2a" stroke-width="0.04">12.5</text>
<rect x="116.40" y="328.00" width="79.20" height="78.60" fill="none" stroke="#8c8c8c" stroke-width="1.25"/>
<line x1="128.20" y1="406.60" x2="128.20" y2="407.60" stroke="#888" stroke-width="0.5"/>
<line x1="144.50" y1="406.60" x2="144.50" y2="407.60" stroke="#888" stroke-width="0.5"/>
<line x1="160.80" y1="406.60" x2="160.80" y2="407.60" stroke="#888" stroke-width="0.5"/>
<line x1="177.10" y1="406.60" x2="177.10" y2="407.60" stroke="#888" stroke-width="0.5"/>
<line x1="193.40" y1="406.60" x2="193.40" y2="407.60" stroke="#888" stroke-width="0.5"/>
<line x1="115.40" y1="394.80" x2="116.40" y2="394.80" stroke="#888" stroke-width="0.5"/>
<line x1="115.40" y1="378.50" x2="116.40" y2="378.50" stroke="#888" stroke-width="0.5"/>
<line x1="115.40" y1="362.20" x2="116.40" y2="362.20" stroke="#888" stroke-width="0.5"/>
<line x1="115.40" y1="345.90" x2="116.40" y2="345.90" stroke="#888" stroke-width="0.5"/>
<line x1="115.40" y1="329.60" x2="116.40" y2="329.60" stroke="#888" stroke-width="0.5"/>
<rect x="135.50" y="340.00" width="49.50" height="30.20" fill="none" stroke="#333" stroke-width="0.8"/>
<rect x="135.50" y="370.20" width="17.80" height="21.80" fill="none" stroke="#333" stroke-width="0.8"/>
<line x1="153.30" y1="340.00" x2="153.30" y2="370.20" stroke="#333" stroke-width="0.8"/>
<text x="120.90" y="345.60" font-size="5.1" text-anchor="start" fill="#2a2a2a" stroke="#2a2a2a" stroke-width="0.04">G1</text>
<text x="120.90" y="351.80" font-size="5.1" text-anchor="start" fill="#2a2a2a" stroke="#2a2a2a" stroke-width="0.04">11.5</text>
<text x="120.90" y="380.40" font-size="5.1" text-anchor="start" fill="#2a2a2a" stroke="#2a2a2a" stroke-width="0.04">G0</text>
<text x="120.90" y="386.40" font-size="5.1" text-anchor="start" fill="#2a2a2a" stroke="#2a2a2a" stroke-width="0.04">56.5</text>
<text x="167.60" y="377.30" font-size="5.1" text-anchor="middle" fill="#2a2a2a" textLength="16.80" lengthAdjust="spacingAndGlyphs" stroke="#2a2a2a" stroke-width="0.04">S/G2/M</text>
<text x="167.60" y="383.20" font-size="5.1" text-anchor="middle" fill="#2a2a2a" stroke="#2a2a2a" stroke-width="0.04">29.1</text>
<line x1="28.20" y1="344.20" x2="28.20" y2="414.70" stroke="#111" stroke-width="1.4"/>
<line x1="27.50" y1="414.00" x2="141.00" y2="414.00" stroke="#111" stroke-width="1.4"/>
<path d="M28.20,339.20 L25.00,346.70 L28.20,345.20 L31.40,346.70 Z" fill="#111"/>
<path d="M146.00,414.00 L138.50,410.80 L140.00,414.00 L138.50,417.20 Z" fill="#111"/>
<text transform="translate(23.30,376.30) rotate(-90)" x="0" y="0" font-size="8.8" text-anchor="middle" fill="#231f20" stroke="#231f20" stroke-width="0.12" textLength="17.50" lengthAdjust="spacingAndGlyphs">Ki-67</text>
<text x="28.80" y="424.80" font-size="8.8" text-anchor="start" fill="#231f20" textLength="22.80" lengthAdjust="spacingAndGlyphs" stroke="#231f20" stroke-width="0.13">7-AAD</text>
<text x="393.50" y="313.00" font-size="6.2" text-anchor="middle" fill="#222" textLength="17.10" lengthAdjust="spacingAndGlyphs" stroke="#222" stroke-width="0.1">Floxed</text>
<text x="476.60" y="313.00" font-size="6.2" text-anchor="middle" fill="#222" textLength="7.60" lengthAdjust="spacingAndGlyphs" stroke="#222" stroke-width="0.1">KO</text>
<text x="399.40" y="322.80" font-size="6.0" text-anchor="start" fill="#222" textLength="28.20" lengthAdjust="spacingAndGlyphs" stroke="#222" stroke-width="0.1">LSK CD150</text>
<line x1="428.60" y1="318.70" x2="430.30" y2="318.70" stroke="#333" stroke-width="0.6"/>
<line x1="429.45" y1="317.85" x2="429.45" y2="319.55" stroke="#333" stroke-width="0.6"/>
<text x="432.60" y="322.80" font-size="6.0" text-anchor="start" fill="#222" textLength="14.50" lengthAdjust="spacingAndGlyphs" stroke="#222" stroke-width="0.1">CD48</text>
<line x1="447.70" y1="318.70" x2="449.00" y2="318.70" stroke="#333" stroke-width="0.6"/>
<text x="449.80" y="322.80" font-size="6.0" text-anchor="start" fill="#222" textLength="15.30" lengthAdjust="spacingAndGlyphs" stroke="#222" stroke-width="0.1">Gated</text>
<path d="M375,374 C374.5,366 375.2,357 379,351.5 C381,349 383,348.5 384.5,349" fill="none" stroke="#555" stroke-width="5.6" stroke-linecap="round" stroke-linejoin="round"/>
<path d="M375,374 C374.5,366 375.2,357 379,351.5 C381,349 383,348.5 384.5,349" fill="none" stroke="#aaa" stroke-width="4.6" stroke-linecap="round" stroke-linejoin="round"/>
<path d="M375,374 C374.5,366 375.2,357 379,351.5 C381,349 383,348.5 384.5,349" fill="none" stroke="#5a5a5a" stroke-width="3.6" stroke-linecap="round" stroke-linejoin="round"/>
<path d="M375,374 C374.5,366 375.2,357 379,351.5 C381,349 383,348.5 384.5,349" fill="none" stroke="#b0b0b0" stroke-width="2.6" stroke-linecap="round" stroke-linejoin="round"/>
<path d="M375,374 C374.5,366 375.2,357 379,351.5 C381,349 383,348.5 384.5,349" fill="none" stroke="#666" stroke-width="1.5" stroke-linecap="round" stroke-linejoin="round"/>
<path d="M375,374 C374.5,366 375.2,357 379,351.5 C381,349 383,348.5 384.5,349" fill="none" stroke="#ccc" stroke-width="0.5" stroke-linecap="round" stroke-linejoin="round"/>
<ellipse cx="377.2" cy="380.8" rx="5.8" ry="8.6" fill="#b0b0b0" stroke="#2a2a2a" stroke-width="0.7"/>
<ellipse cx="377.2" cy="381.5" rx="1.0" ry="1.6" fill="none" stroke="#333" stroke-width="0.5"/>
<ellipse cx="377.2" cy="381.5" rx="2.0" ry="3.2" fill="none" stroke="#333" stroke-width="0.5"/>
<ellipse cx="377.2" cy="381.5" rx="3.0" ry="4.8" fill="none" stroke="#333" stroke-width="0.5"/>
<ellipse cx="377.2" cy="381.5" rx="4.0" ry="6.3" fill="none" stroke="#333" stroke-width="0.5"/>
<ellipse cx="377.2" cy="381.5" rx="4.9" ry="7.7" fill="none" stroke="#333" stroke-width="0.5"/>
<circle cx="386.2" cy="350.5" r="4.7" fill="none" stroke="#555" stroke-width="0.6"/>
<circle cx="386.2" cy="350.5" r="3.6" fill="none" stroke="#777" stroke-width="0.7"/>
<circle cx="386.2" cy="350.5" r="2.5" fill="none" stroke="#333" stroke-width="0.8"/>
<circle cx="386.2" cy="350.5" r="1.3" fill="#f4f4f4" stroke="#555" stroke-width="0.4"/>
<path d="M457.5,384 C457.5,376 457.3,366 458.5,359 C460,352 464,347.5 469,346.5" fill="none" stroke="#2e2e2e" stroke-width="8.4" stroke-linecap="round" stroke-linejoin="round"/>
<path d="M457.5,384 C457.5,376 457.3,366 458.5,359 C460,352 464,347.5 469,346.5" fill="none" stroke="#777" stroke-width="7.2" stroke-linecap="round" stroke-linejoin="round"/>
<path d="M457.5,384 C457.5,376 457.3,366 458.5,359 C460,352 464,347.5 469,346.5" fill="none" stroke="#333" stroke-width="5.8" stroke-linecap="round" stroke-linejoin="round"/>
<path d="M457.5,384 C457.5,376 457.3,366 458.5,359 C460,352 464,347.5 469,346.5" fill="none" stroke="#888" stroke-width="4.4" stroke-linecap="round" stroke-linejoin="round"/>
<path d="M457.5,384 C457.5,376 457.3,366 458.5,359 C460,352 464,347.5 469,346.5" fill="none" stroke="#3a3a3a" stroke-width="3.0" stroke-linecap="round" stroke-linejoin="round"/>
<path d="M457.5,384 C457.5,376 457.3,366 458.5,359 C460,352 464,347.5 469,346.5" fill="none" stroke="#999" stroke-width="1.6" stroke-linecap="round" stroke-linejoin="round"/>
<path d="M457.5,384 C457.5,376 457.3,366 458.5,359 C460,352 464,347.5 469,346.5" fill="none" stroke="#555" stroke-width="0.6" stroke-linecap="round" stroke-linejoin="round"/>
<rect x="352.20" y="328.00" width="79.30" height="78.60" fill="none" stroke="#8c8c8c" stroke-width="1.25"/>
<line x1="364.00" y1="406.60" x2="364.00" y2="407.60" stroke="#888" stroke-width="0.5"/>
<line x1="380.30" y1="406.60" x2="380.30" y2="407.60" stroke="#888" stroke-width="0.5"/>
<line x1="396.60" y1="406.60" x2="396.60" y2="407.60" stroke="#888" stroke-width="0.5"/>
<line x1="412.90" y1="406.60" x2="412.90" y2="407.60" stroke="#888" stroke-width="0.5"/>
<line x1="429.20" y1="406.60" x2="429.20" y2="407.60" stroke="#888" stroke-width="0.5"/>
<line x1="351.20" y1="394.80" x2="352.20" y2="394.80" stroke="#888" stroke-width="0.5"/>
<line x1="351.20" y1="378.50" x2="352.20" y2="378.50" stroke="#888" stroke-width="0.5"/>
<line x1="351.20" y1="362.20" x2="352.20" y2="362.20" stroke="#888" stroke-width="0.5"/>
<line x1="351.20" y1="345.90" x2="352.20" y2="345.90" stroke="#888" stroke-width="0.5"/>
<line x1="351.20" y1="329.60" x2="352.20" y2="329.60" stroke="#888" stroke-width="0.5"/>
<rect x="368.50" y="340.90" width="14.30" height="54.40" fill="none" stroke="#333" stroke-width="0.8"/>
<line x1="368.50" y1="370.20" x2="382.80" y2="370.20" stroke="#333" stroke-width="0.8"/>
<rect x="382.80" y="340.90" width="23.90" height="19.50" fill="none" stroke="#333" stroke-width="0.8"/>
<text x="355.80" y="355.10" font-size="5.1" text-anchor="start" fill="#2a2a2a" stroke="#2a2a2a" stroke-width="0.04">G1</text>
<text x="355.80" y="361.00" font-size="5.1" text-anchor="start" fill="#2a2a2a" stroke="#2a2a2a" stroke-width="0.04">12.4</text>
<text x="355.80" y="380.80" font-size="5.1" text-anchor="start" fill="#2a2a2a" stroke="#2a2a2a" stroke-width="0.04">G0</text>
<text x="355.80" y="386.70" font-size="5.1" text-anchor="start" fill="#2a2a2a" stroke="#2a2a2a" stroke-width="0.04">80.4</text>
<text x="394.70" y="368.40" font-size="5.1" text-anchor="middle" fill="#2a2a2a" textLength="16.80" lengthAdjust="spacingAndGlyphs" stroke="#2a2a2a" stroke-width="0.04">S/G2/M</text>
<text x="394.70" y="374.60" font-size="5.1" text-anchor="middle" fill="#2a2a2a" stroke="#2a2a2a" stroke-width="0.04">6.90</text>
<rect x="433.40" y="328.00" width="79.30" height="78.60" fill="none" stroke="#8c8c8c" stroke-width="1.25"/>
<line x1="445.20" y1="406.60" x2="445.20" y2="407.60" stroke="#888" stroke-width="0.5"/>
<line x1="461.50" y1="406.60" x2="461.50" y2="407.60" stroke="#888" stroke-width="0.5"/>
<line x1="477.80" y1="406.60" x2="477.80" y2="407.60" stroke="#888" stroke-width="0.5"/>
<line x1="494.10" y1="406.60" x2="494.10" y2="407.60" stroke="#888" stroke-width="0.5"/>
<line x1="510.40" y1="406.60" x2="510.40" y2="407.60" stroke="#888" stroke-width="0.5"/>
<line x1="432.40" y1="394.80" x2="433.40" y2="394.80" stroke="#888" stroke-width="0.5"/>
<line x1="432.40" y1="378.50" x2="433.40" y2="378.50" stroke="#888" stroke-width="0.5"/>
<line x1="432.40" y1="362.20" x2="433.40" y2="362.20" stroke="#888" stroke-width="0.5"/>
<line x1="432.40" y1="345.90" x2="433.40" y2="345.90" stroke="#888" stroke-width="0.5"/>
<line x1="432.40" y1="329.60" x2="433.40" y2="329.60" stroke="#888" stroke-width="0.5"/>
<rect x="449.40" y="340.90" width="14.60" height="54.40" fill="none" stroke="#333" stroke-width="0.8"/>
<line x1="449.40" y1="370.20" x2="464.00" y2="370.20" stroke="#333" stroke-width="0.8"/>
<rect x="464.00" y="340.90" width="23.50" height="19.50" fill="none" stroke="#333" stroke-width="0.8"/>
<text x="437.00" y="355.10" font-size="5.1" text-anchor="start" fill="#2a2a2a" stroke="#2a2a2a" stroke-width="0.04">G1</text>
<text x="437.00" y="361.00" font-size="5.1" text-anchor="start" fill="#2a2a2a" stroke="#2a2a2a" stroke-width="0.04">25.1</text>
<text x="437.00" y="380.80" font-size="5.1" text-anchor="start" fill="#2a2a2a" stroke="#2a2a2a" stroke-width="0.04">G0</text>
<text x="437.00" y="386.70" font-size="5.1" text-anchor="start" fill="#2a2a2a" stroke="#2a2a2a" stroke-width="0.04">58.8</text>
<text x="476.00" y="368.40" font-size="5.1" text-anchor="middle" fill="#2a2a2a" textLength="16.80" lengthAdjust="spacingAndGlyphs" stroke="#2a2a2a" stroke-width="0.04">S/G2/M</text>
<text x="476.00" y="374.60" font-size="5.1" text-anchor="middle" fill="#2a2a2a" stroke="#2a2a2a" stroke-width="0.04">15.8</text>
<line x1="345.40" y1="344.10" x2="345.40" y2="414.60" stroke="#111" stroke-width="1.4"/>
<line x1="344.70" y1="413.90" x2="458.00" y2="413.90" stroke="#111" stroke-width="1.4"/>
<path d="M345.40,339.10 L342.20,346.60 L345.40,345.10 L348.60,346.60 Z" fill="#111"/>
<path d="M463.00,413.90 L455.50,410.70 L457.00,413.90 L455.50,417.10 Z" fill="#111"/>
<text transform="translate(340.00,376.30) rotate(-90)" x="0" y="0" font-size="8.8" text-anchor="middle" fill="#231f20" stroke="#231f20" stroke-width="0.12" textLength="17.50" lengthAdjust="spacingAndGlyphs">Ki-67</text>
<text x="345.60" y="424.80" font-size="8.8" text-anchor="start" fill="#231f20" textLength="22.20" lengthAdjust="spacingAndGlyphs" stroke="#231f20" stroke-width="0.13">7-AAD</text>
<rect x="233.00" y="36.20" width="13.30" height="2.60" fill="#a13848" stroke="none" stroke-width="1"/>
<text x="248.80" y="39.20" font-size="5.2" text-anchor="start" fill="#333" textLength="28.60" lengthAdjust="spacingAndGlyphs" font-family="Liberation Serif" stroke="#333" stroke-width="0.05">Floxed (n=3)</text>
<rect x="285.50" y="36.20" width="13.30" height="2.60" fill="#79a862" stroke="none" stroke-width="1"/>
<text x="300.70" y="39.20" font-size="5.2" text-anchor="start" fill="#333" textLength="20.50" lengthAdjust="spacingAndGlyphs" font-family="Liberation Serif" stroke="#333" stroke-width="0.05">KO (n=3)</text>
<rect x="244.00" y="68.20" width="7.00" height="57.00" fill="#a13848" stroke="none" stroke-width="1"/>
<rect x="244.50" y="68.70" width="6.00" height="56.00" fill="none" stroke="#93283a" stroke-width="1"/>
<rect x="252.20" y="106.00" width="6.80" height="19.20" fill="#79a862" stroke="none" stroke-width="1"/>
<rect x="252.70" y="106.50" width="5.80" height="18.20" fill="none" stroke="#6a9f4a" stroke-width="1"/>
<rect x="270.60" y="106.00" width="6.90" height="19.20" fill="#a13848" stroke="none" stroke-width="1"/>
<rect x="271.10" y="106.50" width="5.90" height="18.20" fill="none" stroke="#93283a" stroke-width="1"/>
<rect x="278.30" y="70.60" width="7.00" height="54.60" fill="#79a862" stroke="none" stroke-width="1"/>
<rect x="278.80" y="71.10" width="6.00" height="53.60" fill="none" stroke="#6a9f4a" stroke-width="1"/>
<rect x="297.10" y="123.40" width="6.50" height="1.80" fill="#a13848" stroke="none" stroke-width="1"/>
<rect x="297.60" y="123.90" width="5.50" height="0.80" fill="none" stroke="#93283a" stroke-width="1"/>
<rect x="305.00" y="121.00" width="6.80" height="4.20" fill="#79a862" stroke="none" stroke-width="1"/>
<rect x="305.50" y="121.50" width="5.80" height="3.20" fill="none" stroke="#6a9f4a" stroke-width="1"/>
<line x1="247.50" y1="66.40" x2="247.50" y2="68.20" stroke="#222" stroke-width="0.8"/>
<line x1="245.90" y1="66.40" x2="249.10" y2="66.40" stroke="#222" stroke-width="0.8"/>
<line x1="255.60" y1="104.20" x2="255.60" y2="106.00" stroke="#222" stroke-width="0.8"/>
<line x1="254.00" y1="104.20" x2="257.20" y2="104.20" stroke="#222" stroke-width="0.8"/>
<circle cx="253.70" cy="101.60" r="0.66" fill="#333"/>
<circle cx="255.60" cy="101.60" r="0.66" fill="#333"/>
<circle cx="257.50" cy="101.60" r="0.66" fill="#333"/>
<line x1="274.05" y1="105.00" x2="274.05" y2="106.00" stroke="#222" stroke-width="0.8"/>
<line x1="272.45" y1="105.00" x2="275.65" y2="105.00" stroke="#222" stroke-width="0.8"/>
<line x1="281.80" y1="68.80" x2="281.80" y2="70.60" stroke="#222" stroke-width="0.8"/>
<line x1="280.20" y1="68.80" x2="283.40" y2="68.80" stroke="#222" stroke-width="0.8"/>
<circle cx="279.90" cy="66.20" r="0.66" fill="#333"/>
<circle cx="281.80" cy="66.20" r="0.66" fill="#333"/>
<circle cx="283.70" cy="66.20" r="0.66" fill="#333"/>
<line x1="300.35" y1="122.60" x2="300.35" y2="123.40" stroke="#222" stroke-width="0.8"/>
<line x1="298.75" y1="122.60" x2="301.95" y2="122.60" stroke="#222" stroke-width="0.8"/>
<line x1="308.40" y1="120.00" x2="308.40" y2="121.00" stroke="#222" stroke-width="0.8"/>
<line x1="306.80" y1="120.00" x2="310.00" y2="120.00" stroke="#222" stroke-width="0.8"/>
<circle cx="306.50" cy="117.40" r="0.66" fill="#333"/>
<circle cx="308.40" cy="117.40" r="0.66" fill="#333"/>
<circle cx="310.30" cy="117.40" r="0.66" fill="#333"/>
<line x1="238.50" y1="43.30" x2="238.50" y2="125.70" stroke="#231f20" stroke-width="1.1"/>
<line x1="238.00" y1="125.20" x2="316.70" y2="125.20" stroke="#231f20" stroke-width="1.1"/>
<line x1="235.50" y1="46.40" x2="238.50" y2="46.40" stroke="#231f20" stroke-width="0.9"/>
<text x="233.30" y="48.60" font-size="6.5" text-anchor="end" fill="#333" stroke="#333" stroke-width="0.03">100</text>
<line x1="235.50" y1="62.20" x2="238.50" y2="62.20" stroke="#231f20" stroke-width="0.9"/>
<text x="233.30" y="64.40" font-size="6.5" text-anchor="end" fill="#333" stroke="#333" stroke-width="0.03">80</text>
<line x1="235.50" y1="78.00" x2="238.50" y2="78.00" stroke="#231f20" stroke-width="0.9"/>
<text x="233.30" y="80.20" font-size="6.5" text-anchor="end" fill="#333" stroke="#333" stroke-width="0.03">60</text>
<line x1="235.50" y1="93.80" x2="238.50" y2="93.80" stroke="#231f20" stroke-width="0.9"/>
<text x="233.30" y="96.00" font-size="6.5" text-anchor="end" fill="#333" stroke="#333" stroke-width="0.03">40</text>
<line x1="235.50" y1="109.60" x2="238.50" y2="109.60" stroke="#231f20" stroke-width="0.9"/>
<text x="233.30" y="111.80" font-size="6.5" text-anchor="end" fill="#333" stroke="#333" stroke-width="0.03">20</text>
<line x1="235.50" y1="125.20" x2="238.50" y2="125.20" stroke="#231f20" stroke-width="0.9"/>
<text x="233.30" y="127.40" font-size="6.5" text-anchor="end" fill="#333" stroke="#333" stroke-width="0.03">0</text>
<line x1="251.50" y1="125.20" x2="251.50" y2="127.40" stroke="#231f20" stroke-width="0.9"/>
<text x="251.50" y="136.60" font-size="7.6" text-anchor="middle" fill="#333" textLength="8.41" lengthAdjust="spacingAndGlyphs" stroke="#333" stroke-width="0.06">G0</text>
<line x1="277.90" y1="125.20" x2="277.90" y2="127.40" stroke="#231f20" stroke-width="0.9"/>
<text x="277.90" y="136.60" font-size="7.6" text-anchor="middle" fill="#333" textLength="8.41" lengthAdjust="spacingAndGlyphs" stroke="#333" stroke-width="0.06">G1</text>
<line x1="304.50" y1="125.20" x2="304.50" y2="127.40" stroke="#231f20" stroke-width="0.9"/>
<text x="304.50" y="136.60" font-size="7.6" text-anchor="middle" fill="#333" textLength="21.38" lengthAdjust="spacingAndGlyphs" stroke="#333" stroke-width="0.06">S/G2/M</text>
<circle cx="246.70" cy="53.00" r="0.66" fill="#333"/>
<circle cx="248.60" cy="53.00" r="0.66" fill="#333"/>
<circle cx="250.50" cy="53.00" r="0.66" fill="#333"/>
<text x="253.00" y="54.70" font-size="4.7" text-anchor="start" fill="#333" textLength="18.00" lengthAdjust="spacingAndGlyphs" stroke="#333" stroke-width="0.03">p&lt;0.001</text>
<text transform="translate(216.77,86.00) rotate(-90)" x="0" y="0" font-size="8.4" text-anchor="middle" fill="#231f20" stroke="#231f20" stroke-width="0.12" textLength="51.00" lengthAdjust="spacingAndGlyphs">Frequency (%)</text>
<text x="278.20" y="29.60" font-size="8.6" text-anchor="middle" fill="#231f20" textLength="13.10" lengthAdjust="spacingAndGlyphs" stroke="#231f20" stroke-width="0.13">LSK</text>
<rect x="233.00" y="319.20" width="13.30" height="2.60" fill="#a13848" stroke="none" stroke-width="1"/>
<text x="248.80" y="322.20" font-size="5.2" text-anchor="start" fill="#333" textLength="28.60" lengthAdjust="spacingAndGlyphs" font-family="Liberation Serif" stroke="#333" stroke-width="0.05">Floxed (n=3)</text>
<rect x="285.40" y="319.20" width="13.20" height="2.60" fill="#79a862" stroke="none" stroke-width="1"/>
<text x="300.70" y="322.20" font-size="5.2" text-anchor="start" fill="#333" textLength="20.50" lengthAdjust="spacingAndGlyphs" font-family="Liberation Serif" stroke="#333" stroke-width="0.05">KO (n=3)</text>
<rect x="244.70" y="352.90" width="6.60" height="56.30" fill="#a13848" stroke="none" stroke-width="1"/>
<rect x="245.20" y="353.40" width="5.60" height="55.30" fill="none" stroke="#93283a" stroke-width="1"/>
<rect x="252.70" y="366.30" width="6.10" height="42.90" fill="#79a862" stroke="none" stroke-width="1"/>
<rect x="253.20" y="366.80" width="5.10" height="41.90" fill="none" stroke="#6a9f4a" stroke-width="1"/>
<rect x="271.00" y="397.50" width="6.70" height="11.70" fill="#a13848" stroke="none" stroke-width="1"/>
<rect x="271.50" y="398.00" width="5.70" height="10.70" fill="none" stroke="#93283a" stroke-width="1"/>
<rect x="279.00" y="400.40" width="6.80" height="8.80" fill="#79a862" stroke="none" stroke-width="1"/>
<rect x="279.50" y="400.90" width="5.80" height="7.80" fill="none" stroke="#6a9f4a" stroke-width="1"/>
<rect x="297.70" y="399.00" width="6.70" height="10.20" fill="#a13848" stroke="none" stroke-width="1"/>
<rect x="298.20" y="399.50" width="5.70" height="9.20" fill="none" stroke="#93283a" stroke-width="1"/>
<rect x="305.60" y="385.60" width="6.70" height="23.60" fill="#79a862" stroke="none" stroke-width="1"/>
<rect x="306.10" y="386.10" width="5.70" height="22.60" fill="none" stroke="#6a9f4a" stroke-width="1"/>
<line x1="248.00" y1="351.00" x2="248.00" y2="352.90" stroke="#222" stroke-width="0.8"/>
<line x1="246.40" y1="351.00" x2="249.60" y2="351.00" stroke="#222" stroke-width="0.8"/>
<line x1="255.75" y1="363.50" x2="255.75" y2="366.30" stroke="#222" stroke-width="0.8"/>
<line x1="254.15" y1="363.50" x2="257.35" y2="363.50" stroke="#222" stroke-width="0.8"/>
<circle cx="254.80" cy="360.90" r="0.66" fill="#333"/>
<circle cx="256.70" cy="360.90" r="0.66" fill="#333"/>
<line x1="274.35" y1="395.40" x2="274.35" y2="397.50" stroke="#222" stroke-width="0.8"/>
<line x1="272.75" y1="395.40" x2="275.95" y2="395.40" stroke="#222" stroke-width="0.8"/>
<line x1="282.40" y1="398.40" x2="282.40" y2="400.40" stroke="#222" stroke-width="0.8"/>
<line x1="280.80" y1="398.40" x2="284.00" y2="398.40" stroke="#222" stroke-width="0.8"/>
<line x1="301.05" y1="397.20" x2="301.05" y2="399.00" stroke="#222" stroke-width="0.8"/>
<line x1="299.45" y1="397.20" x2="302.65" y2="397.20" stroke="#222" stroke-width="0.8"/>
<line x1="308.95" y1="383.50" x2="308.95" y2="385.60" stroke="#222" stroke-width="0.8"/>
<line x1="307.35" y1="383.50" x2="310.55" y2="383.50" stroke="#222" stroke-width="0.8"/>
<circle cx="308.00" cy="380.90" r="0.66" fill="#333"/>
<circle cx="309.90" cy="380.90" r="0.66" fill="#333"/>
<line x1="238.40" y1="326.40" x2="238.40" y2="409.70" stroke="#231f20" stroke-width="1.1"/>
<line x1="237.90" y1="409.20" x2="318.50" y2="409.20" stroke="#231f20" stroke-width="1.1"/>
<line x1="235.40" y1="329.40" x2="238.40" y2="329.40" stroke="#231f20" stroke-width="0.9"/>
<text x="233.20" y="331.60" font-size="6.5" text-anchor="end" fill="#333" stroke="#333" stroke-width="0.03">100</text>
<line x1="235.40" y1="345.40" x2="238.40" y2="345.40" stroke="#231f20" stroke-width="0.9"/>
<text x="233.20" y="347.60" font-size="6.5" text-anchor="end" fill="#333" stroke="#333" stroke-width="0.03">80</text>
<line x1="235.40" y1="361.30" x2="238.40" y2="361.30" stroke="#231f20" stroke-width="0.9"/>
<text x="233.20" y="363.50" font-size="6.5" text-anchor="end" fill="#333" stroke="#333" stroke-width="0.03">60</text>
<line x1="235.40" y1="377.30" x2="238.40" y2="377.30" stroke="#231f20" stroke-width="0.9"/>
<text x="233.20" y="379.50" font-size="6.5" text-anchor="end" fill="#333" stroke="#333" stroke-width="0.03">40</text>
<line x1="235.40" y1="393.30" x2="238.40" y2="393.30" stroke="#231f20" stroke-width="0.9"/>
<text x="233.20" y="395.50" font-size="6.5" text-anchor="end" fill="#333" stroke="#333" stroke-width="0.03">20</text>
<line x1="235.40" y1="409.20" x2="238.40" y2="409.20" stroke="#231f20" stroke-width="0.9"/>
<text x="233.20" y="411.40" font-size="6.5" text-anchor="end" fill="#333" stroke="#333" stroke-width="0.03">0</text>
<line x1="251.50" y1="409.20" x2="251.50" y2="411.40" stroke="#231f20" stroke-width="0.9"/>
<text x="251.50" y="420.40" font-size="7.6" text-anchor="middle" fill="#333" textLength="8.41" lengthAdjust="spacingAndGlyphs" stroke="#333" stroke-width="0.06">G0</text>
<line x1="278.00" y1="409.20" x2="278.00" y2="411.40" stroke="#231f20" stroke-width="0.9"/>
<text x="278.00" y="420.40" font-size="7.6" text-anchor="middle" fill="#333" textLength="8.41" lengthAdjust="spacingAndGlyphs" stroke="#333" stroke-width="0.06">G1</text>
<line x1="305.00" y1="409.20" x2="305.00" y2="411.40" stroke="#231f20" stroke-width="0.9"/>
<text x="305.00" y="420.40" font-size="7.6" text-anchor="middle" fill="#333" textLength="21.38" lengthAdjust="spacingAndGlyphs" stroke="#333" stroke-width="0.06">S/G2/M</text>
<circle cx="243.40" cy="334.90" r="0.66" fill="#333"/>
<circle cx="245.30" cy="334.90" r="0.66" fill="#333"/>
<text x="247.70" y="336.60" font-size="4.7" text-anchor="start" fill="#333" textLength="14.90" lengthAdjust="spacingAndGlyphs" stroke="#333" stroke-width="0.03">p&lt;0.01</text>
<text transform="translate(216.77,369.00) rotate(-90)" x="0" y="0" font-size="8.4" text-anchor="middle" fill="#231f20" stroke="#231f20" stroke-width="0.12" textLength="51.00" lengthAdjust="spacingAndGlyphs">Frequency (%)</text>
<text x="278.20" y="312.70" font-size="8.6" text-anchor="middle" fill="#231f20" textLength="13.10" lengthAdjust="spacingAndGlyphs" stroke="#231f20" stroke-width="0.13">LSK</text>
<rect x="30.40" y="174.50" width="13.30" height="2.60" fill="#a13848" stroke="none" stroke-width="1"/>
<text x="46.80" y="177.50" font-size="5.2" text-anchor="start" fill="#333" textLength="27.70" lengthAdjust="spacingAndGlyphs" font-family="Liberation Serif" stroke="#333" stroke-width="0.05">Floxed (n=3)</text>
<rect x="82.70" y="174.50" width="13.40" height="2.60" fill="#79a862" stroke="none" stroke-width="1"/>
<text x="98.70" y="177.50" font-size="5.2" text-anchor="start" fill="#333" textLength="20.50" lengthAdjust="spacingAndGlyphs" font-family="Liberation Serif" stroke="#333" stroke-width="0.05">KO (n=3)</text>
<rect x="41.90" y="197.00" width="6.50" height="67.00" fill="#a13848" stroke="none" stroke-width="1"/>
<rect x="42.40" y="197.50" width="5.50" height="66.00" fill="none" stroke="#93283a" stroke-width="1"/>
<rect x="49.90" y="255.00" width="6.40" height="9.00" fill="#79a862" stroke="none" stroke-width="1"/>
<rect x="50.40" y="255.50" width="5.40" height="8.00" fill="none" stroke="#6a9f4a" stroke-width="1"/>
<rect x="68.30" y="251.40" width="7.00" height="12.60" fill="#a13848" stroke="none" stroke-width="1"/>
<rect x="68.80" y="251.90" width="6.00" height="11.60" fill="none" stroke="#93283a" stroke-width="1"/>
<rect x="76.30" y="197.50" width="6.80" height="66.50" fill="#79a862" stroke="none" stroke-width="1"/>
<rect x="76.80" y="198.00" width="5.80" height="65.50" fill="none" stroke="#6a9f4a" stroke-width="1"/>
<rect x="102.80" y="261.30" width="6.80" height="2.70" fill="#79a862" stroke="none" stroke-width="1"/>
<rect x="103.30" y="261.80" width="5.80" height="1.70" fill="none" stroke="#6a9f4a" stroke-width="1"/>
<line x1="45.15" y1="195.80" x2="45.15" y2="197.00" stroke="#222" stroke-width="0.8"/>
<line x1="43.55" y1="195.80" x2="46.75" y2="195.80" stroke="#222" stroke-width="0.8"/>
<line x1="53.10" y1="253.50" x2="53.10" y2="255.00" stroke="#222" stroke-width="0.8"/>
<line x1="51.50" y1="253.50" x2="54.70" y2="253.50" stroke="#222" stroke-width="0.8"/>
<circle cx="52.15" cy="250.90" r="0.66" fill="#333"/>
<circle cx="54.05" cy="250.90" r="0.66" fill="#333"/>
<line x1="71.80" y1="250.50" x2="71.80" y2="251.40" stroke="#222" stroke-width="0.8"/>
<line x1="70.20" y1="250.50" x2="73.40" y2="250.50" stroke="#222" stroke-width="0.8"/>
<line x1="79.70" y1="195.50" x2="79.70" y2="197.50" stroke="#222" stroke-width="0.8"/>
<line x1="78.10" y1="195.50" x2="81.30" y2="195.50" stroke="#222" stroke-width="0.8"/>
<circle cx="78.75" cy="192.90" r="0.66" fill="#333"/>
<circle cx="80.65" cy="192.90" r="0.66" fill="#333"/>
<line x1="106.20" y1="260.00" x2="106.20" y2="261.30" stroke="#222" stroke-width="0.8"/>
<line x1="104.60" y1="260.00" x2="107.80" y2="260.00" stroke="#222" stroke-width="0.8"/>
<circle cx="105.25" cy="257.40" r="0.66" fill="#333"/>
<circle cx="107.15" cy="257.40" r="0.66" fill="#333"/>
<line x1="35.90" y1="181.90" x2="35.90" y2="264.50" stroke="#231f20" stroke-width="1.1"/>
<line x1="35.40" y1="264.00" x2="114.80" y2="264.00" stroke="#231f20" stroke-width="1.1"/>
<line x1="32.90" y1="184.50" x2="35.90" y2="184.50" stroke="#231f20" stroke-width="0.9"/>
<text x="30.70" y="186.70" font-size="6.5" text-anchor="end" fill="#333" stroke="#333" stroke-width="0.03">100</text>
<line x1="32.90" y1="200.40" x2="35.90" y2="200.40" stroke="#231f20" stroke-width="0.9"/>
<text x="30.70" y="202.60" font-size="6.5" text-anchor="end" fill="#333" stroke="#333" stroke-width="0.03">80</text>
<line x1="32.90" y1="216.30" x2="35.90" y2="216.30" stroke="#231f20" stroke-width="0.9"/>
<text x="30.70" y="218.50" font-size="6.5" text-anchor="end" fill="#333" stroke="#333" stroke-width="0.03">60</text>
<line x1="32.90" y1="232.20" x2="35.90" y2="232.20" stroke="#231f20" stroke-width="0.9"/>
<text x="30.70" y="234.40" font-size="6.5" text-anchor="end" fill="#333" stroke="#333" stroke-width="0.03">40</text>
<line x1="32.90" y1="248.20" x2="35.90" y2="248.20" stroke="#231f20" stroke-width="0.9"/>
<text x="30.70" y="250.40" font-size="6.5" text-anchor="end" fill="#333" stroke="#333" stroke-width="0.03">20</text>
<line x1="32.90" y1="264.00" x2="35.90" y2="264.00" stroke="#231f20" stroke-width="0.9"/>
<text x="30.70" y="266.20" font-size="6.5" text-anchor="end" fill="#333" stroke="#333" stroke-width="0.03">0</text>
<line x1="48.80" y1="264.00" x2="48.80" y2="266.20" stroke="#231f20" stroke-width="0.9"/>
<text x="48.80" y="275.70" font-size="7.6" text-anchor="middle" fill="#333" textLength="8.41" lengthAdjust="spacingAndGlyphs" stroke="#333" stroke-width="0.06">G0</text>
<line x1="75.30" y1="264.00" x2="75.30" y2="266.20" stroke="#231f20" stroke-width="0.9"/>
<text x="75.30" y="275.70" font-size="7.6" text-anchor="middle" fill="#333" textLength="8.41" lengthAdjust="spacingAndGlyphs" stroke="#333" stroke-width="0.06">G1</text>
<line x1="102.20" y1="264.00" x2="102.20" y2="266.20" stroke="#231f20" stroke-width="0.9"/>
<text x="102.20" y="275.70" font-size="7.6" text-anchor="middle" fill="#333" textLength="21.38" lengthAdjust="spacingAndGlyphs" stroke="#333" stroke-width="0.06">S/G2/M</text>
<circle cx="39.60" cy="190.30" r="0.66" fill="#333"/>
<circle cx="41.50" cy="190.30" r="0.66" fill="#333"/>
<text x="43.90" y="192.00" font-size="4.7" text-anchor="start" fill="#333" textLength="15.60" lengthAdjust="spacingAndGlyphs" stroke="#333" stroke-width="0.03">p&lt;0.01</text>
<text transform="translate(14.67,224.00) rotate(-90)" x="0" y="0" font-size="8.4" text-anchor="middle" fill="#231f20" stroke="#231f20" stroke-width="0.12" textLength="51.30" lengthAdjust="spacingAndGlyphs">Frequency (%)</text>
<text x="75.50" y="157.80" font-size="8.6" text-anchor="middle" fill="#231f20" textLength="23.80" lengthAdjust="spacingAndGlyphs" stroke="#231f20" stroke-width="0.13">LT-HSC</text>
<text x="43.00" y="167.60" font-size="8.6" text-anchor="start" fill="#231f20" textLength="39.32" lengthAdjust="spacingAndGlyphs" stroke="#231f20" stroke-width="0.13">LSK CD150</text>
<line x1="82.84" y1="162.96" x2="85.34" y2="162.96" stroke="#231f20" stroke-width="0.85"/>
<line x1="84.09" y1="161.71" x2="84.09" y2="164.21" stroke="#231f20" stroke-width="0.85"/>
<text x="86.75" y="167.60" font-size="8.6" text-anchor="start" fill="#231f20" textLength="19.40" lengthAdjust="spacingAndGlyphs" stroke="#231f20" stroke-width="0.13">CD48</text>
<line x1="106.41" y1="162.96" x2="108.21" y2="162.96" stroke="#231f20" stroke-width="0.85"/>
<rect x="157.20" y="175.90" width="12.70" height="2.60" fill="#a13848" stroke="none" stroke-width="1"/>
<text x="173.00" y="178.90" font-size="5.2" text-anchor="start" fill="#333" textLength="27.60" lengthAdjust="spacingAndGlyphs" font-family="Liberation Serif" stroke="#333" stroke-width="0.05">Floxed (n=3)</text>
<rect x="209.50" y="175.90" width="12.70" height="2.60" fill="#79a862" stroke="none" stroke-width="1"/>
<text x="225.50" y="178.90" font-size="5.2" text-anchor="start" fill="#333" textLength="20.50" lengthAdjust="spacingAndGlyphs" font-family="Liberation Serif" stroke="#333" stroke-width="0.05">KO (n=3)</text>
<rect x="169.00" y="206.80" width="6.50" height="56.70" fill="#a13848" stroke="none" stroke-width="1"/>
<rect x="169.50" y="207.30" width="5.50" height="55.70" fill="none" stroke="#93283a" stroke-width="1"/>
<rect x="177.00" y="237.70" width="6.80" height="25.80" fill="#79a862" stroke="none" stroke-width="1"/>
<rect x="177.50" y="238.20" width="5.80" height="24.80" fill="none" stroke="#6a9f4a" stroke-width="1"/>
<rect x="195.00" y="245.50" width="6.80" height="18.00" fill="#a13848" stroke="none" stroke-width="1"/>
<rect x="195.50" y="246.00" width="5.80" height="17.00" fill="none" stroke="#93283a" stroke-width="1"/>
<rect x="203.00" y="214.80" width="6.80" height="48.70" fill="#79a862" stroke="none" stroke-width="1"/>
<rect x="203.50" y="215.30" width="5.80" height="47.70" fill="none" stroke="#6a9f4a" stroke-width="1"/>
<rect x="221.00" y="262.40" width="6.40" height="1.10" fill="#a13848" stroke="none" stroke-width="1"/>
<rect x="221.50" y="262.90" width="5.40" height="0.10" fill="none" stroke="#93283a" stroke-width="1"/>
<rect x="228.90" y="261.60" width="6.30" height="1.90" fill="#79a862" stroke="none" stroke-width="1"/>
<rect x="229.40" y="262.10" width="5.30" height="0.90" fill="none" stroke="#6a9f4a" stroke-width="1"/>
<rect x="164.20" y="257.50" width="75.80" height="3.20" fill="#fff" stroke="none" stroke-width="1"/>
<line x1="172.25" y1="205.80" x2="172.25" y2="206.80" stroke="#222" stroke-width="0.8"/>
<line x1="170.65" y1="205.80" x2="173.85" y2="205.80" stroke="#222" stroke-width="0.8"/>
<line x1="180.40" y1="236.50" x2="180.40" y2="237.70" stroke="#222" stroke-width="0.8"/>
<line x1="178.80" y1="236.50" x2="182.00" y2="236.50" stroke="#222" stroke-width="0.8"/>
<circle cx="179.45" cy="233.90" r="0.66" fill="#333"/>
<circle cx="181.35" cy="233.90" r="0.66" fill="#333"/>
<line x1="198.40" y1="244.80" x2="198.40" y2="245.50" stroke="#222" stroke-width="0.8"/>
<line x1="196.80" y1="244.80" x2="200.00" y2="244.80" stroke="#222" stroke-width="0.8"/>
<line x1="206.40" y1="213.50" x2="206.40" y2="214.80" stroke="#222" stroke-width="0.8"/>
<line x1="204.80" y1="213.50" x2="208.00" y2="213.50" stroke="#222" stroke-width="0.8"/>
<circle cx="205.45" cy="210.90" r="0.66" fill="#333"/>
<circle cx="207.35" cy="210.90" r="0.66" fill="#333"/>
<line x1="232.05" y1="260.80" x2="232.05" y2="261.60" stroke="#222" stroke-width="0.8"/>
<line x1="230.45" y1="260.80" x2="233.65" y2="260.80" stroke="#222" stroke-width="0.8"/>
<circle cx="231.10" cy="258.20" r="0.66" fill="#333"/>
<circle cx="233.00" cy="258.20" r="0.66" fill="#333"/>
<line x1="163.20" y1="186.00" x2="163.20" y2="264.00" stroke="#231f20" stroke-width="1.1"/>
<line x1="162.70" y1="263.50" x2="241.00" y2="263.50" stroke="#231f20" stroke-width="1.1"/>
<line x1="163.20" y1="186.00" x2="241.00" y2="186.00" stroke="#231f20" stroke-width="1.1"/>
<line x1="241.00" y1="186.00" x2="241.00" y2="264.00" stroke="#231f20" stroke-width="1.1"/>
<rect x="161.70" y="257.50" width="3.00" height="3.20" fill="#fff" stroke="none" stroke-width="1"/>
<line x1="160.80" y1="260.70" x2="165.60" y2="255.30" stroke="#1a1a1a" stroke-width="1.0"/>
<line x1="160.80" y1="262.90" x2="165.60" y2="257.50" stroke="#1a1a1a" stroke-width="1.0"/>
<rect x="239.50" y="257.50" width="3.00" height="3.20" fill="#fff" stroke="none" stroke-width="1"/>
<line x1="238.60" y1="260.70" x2="243.40" y2="255.30" stroke="#1a1a1a" stroke-width="1.0"/>
<line x1="238.60" y1="262.90" x2="243.40" y2="257.50" stroke="#1a1a1a" stroke-width="1.0"/>
<line x1="160.20" y1="186.00" x2="163.20" y2="186.00" stroke="#231f20" stroke-width="0.9"/>
<text x="156.90" y="188.20" font-size="6.5" text-anchor="end" fill="#333" stroke="#333" stroke-width="0.03">100</text>
<line x1="160.20" y1="201.70" x2="163.20" y2="201.70" stroke="#231f20" stroke-width="0.9"/>
<text x="156.90" y="203.90" font-size="6.5" text-anchor="end" fill="#333" stroke="#333" stroke-width="0.03">80</text>
<line x1="160.20" y1="218.00" x2="163.20" y2="218.00" stroke="#231f20" stroke-width="0.9"/>
<text x="156.90" y="220.20" font-size="6.5" text-anchor="end" fill="#333" stroke="#333" stroke-width="0.03">60</text>
<line x1="160.20" y1="234.20" x2="163.20" y2="234.20" stroke="#231f20" stroke-width="0.9"/>
<text x="156.90" y="236.40" font-size="6.5" text-anchor="end" fill="#333" stroke="#333" stroke-width="0.03">40</text>
<line x1="160.20" y1="250.30" x2="163.20" y2="250.30" stroke="#231f20" stroke-width="0.9"/>
<text x="156.90" y="252.50" font-size="6.5" text-anchor="end" fill="#333" stroke="#333" stroke-width="0.03">20</text>
<line x1="160.20" y1="263.50" x2="163.20" y2="263.50" stroke="#231f20" stroke-width="0.9"/>
<text x="156.90" y="265.70" font-size="6.5" text-anchor="end" fill="#333" stroke="#333" stroke-width="0.03">0</text>
<line x1="176.40" y1="263.50" x2="176.40" y2="265.70" stroke="#231f20" stroke-width="0.9"/>
<text x="176.40" y="275.70" font-size="7.6" text-anchor="middle" fill="#333" textLength="8.41" lengthAdjust="spacingAndGlyphs" stroke="#333" stroke-width="0.06">G0</text>
<line x1="202.00" y1="263.50" x2="202.00" y2="265.70" stroke="#231f20" stroke-width="0.9"/>
<text x="202.00" y="275.70" font-size="7.6" text-anchor="middle" fill="#333" textLength="8.41" lengthAdjust="spacingAndGlyphs" stroke="#333" stroke-width="0.06">G1</text>
<line x1="227.80" y1="263.50" x2="227.80" y2="265.70" stroke="#231f20" stroke-width="0.9"/>
<text x="227.80" y="275.70" font-size="7.6" text-anchor="middle" fill="#333" textLength="21.38" lengthAdjust="spacingAndGlyphs" stroke="#333" stroke-width="0.06">S/G2/M</text>
<circle cx="167.60" cy="190.50" r="0.66" fill="#333"/>
<circle cx="169.50" cy="190.50" r="0.66" fill="#333"/>
<text x="171.90" y="192.20" font-size="4.7" text-anchor="start" fill="#333" textLength="16.00" lengthAdjust="spacingAndGlyphs" stroke="#333" stroke-width="0.03">p&lt;0.01</text>
<text transform="translate(141.97,224.80) rotate(-90)" x="0" y="0" font-size="8.4" text-anchor="middle" fill="#231f20" stroke="#231f20" stroke-width="0.12" textLength="50.00" lengthAdjust="spacingAndGlyphs">Frequency (%)</text>
<text x="202.10" y="158.70" font-size="8.6" text-anchor="middle" fill="#231f20" textLength="24.60" lengthAdjust="spacingAndGlyphs" stroke="#231f20" stroke-width="0.13">ST-HSC</text>
<text x="171.40" y="168.50" font-size="8.6" text-anchor="start" fill="#231f20" textLength="38.17" lengthAdjust="spacingAndGlyphs" stroke="#231f20" stroke-width="0.13">LSK CD150</text>
<line x1="210.08" y1="163.86" x2="212.08" y2="163.86" stroke="#231f20" stroke-width="0.85"/>
<text x="213.87" y="168.50" font-size="8.6" text-anchor="start" fill="#231f20" textLength="18.83" lengthAdjust="spacingAndGlyphs" stroke="#231f20" stroke-width="0.13">CD48</text>
<line x1="232.96" y1="163.86" x2="234.76" y2="163.86" stroke="#231f20" stroke-width="0.85"/>
<rect x="280.50" y="176.50" width="12.90" height="2.60" fill="#a13848" stroke="none" stroke-width="1"/>
<text x="296.40" y="179.50" font-size="5.2" text-anchor="start" fill="#333" textLength="28.10" lengthAdjust="spacingAndGlyphs" font-family="Liberation Serif" stroke="#333" stroke-width="0.05">Floxed (n=3)</text>
<rect x="333.00" y="176.50" width="13.30" height="2.60" fill="#79a862" stroke="none" stroke-width="1"/>
<text x="348.40" y="179.50" font-size="5.2" text-anchor="start" fill="#333" textLength="20.50" lengthAdjust="spacingAndGlyphs" font-family="Liberation Serif" stroke="#333" stroke-width="0.05">KO (n=3)</text>
<rect x="292.00" y="202.80" width="6.80" height="60.70" fill="#a13848" stroke="none" stroke-width="1"/>
<rect x="292.50" y="203.30" width="5.80" height="59.70" fill="none" stroke="#93283a" stroke-width="1"/>
<rect x="300.30" y="238.00" width="6.60" height="25.50" fill="#79a862" stroke="none" stroke-width="1"/>
<rect x="300.80" y="238.50" width="5.60" height="24.50" fill="none" stroke="#6a9f4a" stroke-width="1"/>
<rect x="318.30" y="239.10" width="7.00" height="24.40" fill="#a13848" stroke="none" stroke-width="1"/>
<rect x="318.80" y="239.60" width="6.00" height="23.40" fill="none" stroke="#93283a" stroke-width="1"/>
<rect x="326.30" y="205.30" width="6.40" height="58.20" fill="#79a862" stroke="none" stroke-width="1"/>
<rect x="326.80" y="205.80" width="5.40" height="57.20" fill="none" stroke="#6a9f4a" stroke-width="1"/>
<rect x="344.30" y="261.00" width="6.40" height="2.50" fill="#a13848" stroke="none" stroke-width="1"/>
<rect x="344.80" y="261.50" width="5.40" height="1.50" fill="none" stroke="#93283a" stroke-width="1"/>
<rect x="352.20" y="257.10" width="6.50" height="6.40" fill="#79a862" stroke="none" stroke-width="1"/>
<rect x="352.70" y="257.60" width="5.50" height="5.40" fill="none" stroke="#6a9f4a" stroke-width="1"/>
<rect x="287.90" y="254.50" width="75.10" height="2.50" fill="#fff" stroke="none" stroke-width="1"/>
<line x1="295.40" y1="201.50" x2="295.40" y2="202.80" stroke="#222" stroke-width="0.8"/>
<line x1="293.80" y1="201.50" x2="297.00" y2="201.50" stroke="#222" stroke-width="0.8"/>
<line x1="303.60" y1="236.80" x2="303.60" y2="238.00" stroke="#222" stroke-width="0.8"/>
<line x1="302.00" y1="236.80" x2="305.20" y2="236.80" stroke="#222" stroke-width="0.8"/>
<circle cx="302.65" cy="234.20" r="0.66" fill="#333"/>
<circle cx="304.55" cy="234.20" r="0.66" fill="#333"/>
<line x1="321.80" y1="237.80" x2="321.80" y2="239.10" stroke="#222" stroke-width="0.8"/>
<line x1="320.20" y1="237.80" x2="323.40" y2="237.80" stroke="#222" stroke-width="0.8"/>
<line x1="329.50" y1="203.80" x2="329.50" y2="205.30" stroke="#222" stroke-width="0.8"/>
<line x1="327.90" y1="203.80" x2="331.10" y2="203.80" stroke="#222" stroke-width="0.8"/>
<circle cx="328.55" cy="201.20" r="0.66" fill="#333"/>
<circle cx="330.45" cy="201.20" r="0.66" fill="#333"/>
<line x1="347.50" y1="260.50" x2="347.50" y2="261.00" stroke="#222" stroke-width="0.8"/>
<line x1="345.90" y1="260.50" x2="349.10" y2="260.50" stroke="#222" stroke-width="0.8"/>
<line x1="355.45" y1="256.00" x2="355.45" y2="257.10" stroke="#222" stroke-width="0.8"/>
<line x1="353.85" y1="256.00" x2="357.05" y2="256.00" stroke="#222" stroke-width="0.8"/>
<circle cx="354.50" cy="253.40" r="0.66" fill="#333"/>
<circle cx="356.40" cy="253.40" r="0.66" fill="#333"/>
<line x1="286.90" y1="186.30" x2="286.90" y2="264.00" stroke="#231f20" stroke-width="1.1"/>
<line x1="286.40" y1="263.50" x2="364.00" y2="263.50" stroke="#231f20" stroke-width="1.1"/>
<line x1="286.90" y1="186.30" x2="364.00" y2="186.30" stroke="#231f20" stroke-width="1.1"/>
<line x1="364.00" y1="186.30" x2="364.00" y2="264.00" stroke="#231f20" stroke-width="1.1"/>
<rect x="285.40" y="254.15" width="3.00" height="3.20" fill="#fff" stroke="none" stroke-width="1"/>
<line x1="284.50" y1="257.35" x2="289.30" y2="251.95" stroke="#1a1a1a" stroke-width="1.0"/>
<line x1="284.50" y1="259.55" x2="289.30" y2="254.15" stroke="#1a1a1a" stroke-width="1.0"/>
<rect x="362.50" y="254.15" width="3.00" height="3.20" fill="#fff" stroke="none" stroke-width="1"/>
<line x1="361.60" y1="257.35" x2="366.40" y2="251.95" stroke="#1a1a1a" stroke-width="1.0"/>
<line x1="361.60" y1="259.55" x2="366.40" y2="254.15" stroke="#1a1a1a" stroke-width="1.0"/>
<line x1="283.90" y1="186.30" x2="286.90" y2="186.30" stroke="#231f20" stroke-width="0.9"/>
<text x="281.70" y="188.50" font-size="6.5" text-anchor="end" fill="#333" stroke="#333" stroke-width="0.03">80</text>
<line x1="283.90" y1="209.40" x2="286.90" y2="209.40" stroke="#231f20" stroke-width="0.9"/>
<text x="281.70" y="211.60" font-size="6.5" text-anchor="end" fill="#333" stroke="#333" stroke-width="0.03">60</text>
<line x1="283.90" y1="231.70" x2="286.90" y2="231.70" stroke="#231f20" stroke-width="0.9"/>
<text x="281.70" y="233.90" font-size="6.5" text-anchor="end" fill="#333" stroke="#333" stroke-width="0.03">40</text>
<line x1="283.90" y1="254.20" x2="286.90" y2="254.20" stroke="#231f20" stroke-width="0.9"/>
<text x="281.70" y="256.40" font-size="6.5" text-anchor="end" fill="#333" stroke="#333" stroke-width="0.03">20</text>
<line x1="283.90" y1="263.50" x2="286.90" y2="263.50" stroke="#231f20" stroke-width="0.9"/>
<text x="281.70" y="265.70" font-size="6.5" text-anchor="end" fill="#333" stroke="#333" stroke-width="0.03">0</text>
<line x1="299.90" y1="263.50" x2="299.90" y2="265.70" stroke="#231f20" stroke-width="0.9"/>
<text x="299.90" y="275.70" font-size="7.6" text-anchor="middle" fill="#333" textLength="8.41" lengthAdjust="spacingAndGlyphs" stroke="#333" stroke-width="0.06">G0</text>
<line x1="325.30" y1="263.50" x2="325.30" y2="265.70" stroke="#231f20" stroke-width="0.9"/>
<text x="325.30" y="275.70" font-size="7.6" text-anchor="middle" fill="#333" textLength="8.41" lengthAdjust="spacingAndGlyphs" stroke="#333" stroke-width="0.06">G1</text>
<line x1="351.30" y1="263.50" x2="351.30" y2="265.70" stroke="#231f20" stroke-width="0.9"/>
<text x="351.30" y="275.70" font-size="7.6" text-anchor="middle" fill="#333" textLength="21.38" lengthAdjust="spacingAndGlyphs" stroke="#333" stroke-width="0.06">S/G2/M</text>
<circle cx="291.60" cy="191.50" r="0.66" fill="#333"/>
<circle cx="293.50" cy="191.50" r="0.66" fill="#333"/>
<text x="295.90" y="193.20" font-size="4.7" text-anchor="start" fill="#333" textLength="15.90" lengthAdjust="spacingAndGlyphs" stroke="#333" stroke-width="0.03">p&lt;0.01</text>
<text transform="translate(268.77,225.30) rotate(-90)" x="0" y="0" font-size="8.4" text-anchor="middle" fill="#231f20" stroke="#231f20" stroke-width="0.12" textLength="51.00" lengthAdjust="spacingAndGlyphs">Frequency (%)</text>
<text x="325.80" y="159.40" font-size="8.6" text-anchor="middle" fill="#231f20" textLength="15.20" lengthAdjust="spacingAndGlyphs" stroke="#231f20" stroke-width="0.13">MPP</text>
<text x="293.40" y="169.10" font-size="8.6" text-anchor="start" fill="#231f20" textLength="38.41" lengthAdjust="spacingAndGlyphs" stroke="#231f20" stroke-width="0.13">LSK CD150</text>
<line x1="332.32" y1="164.46" x2="334.32" y2="164.46" stroke="#231f20" stroke-width="0.85"/>
<text x="336.14" y="169.10" font-size="8.6" text-anchor="start" fill="#231f20" textLength="18.95" lengthAdjust="spacingAndGlyphs" stroke="#231f20" stroke-width="0.13">CD48</text>
<line x1="355.35" y1="164.46" x2="357.85" y2="164.46" stroke="#231f20" stroke-width="0.85"/>
<line x1="356.60" y1="163.21" x2="356.60" y2="165.71" stroke="#231f20" stroke-width="0.85"/>
<rect x="30.00" y="459.10" width="13.50" height="2.60" fill="#a13848" stroke="none" stroke-width="1"/>
<text x="45.80" y="462.10" font-size="5.2" text-anchor="start" fill="#333" textLength="27.90" lengthAdjust="spacingAndGlyphs" font-family="Liberation Serif" stroke="#333" stroke-width="0.05">Floxed (n=3)</text>
<rect x="82.30" y="459.10" width="13.50" height="2.60" fill="#79a862" stroke="none" stroke-width="1"/>
<text x="98.00" y="462.10" font-size="5.2" text-anchor="start" fill="#333" textLength="20.50" lengthAdjust="spacingAndGlyphs" font-family="Liberation Serif" stroke="#333" stroke-width="0.05">KO (n=3)</text>
<rect x="41.90" y="484.00" width="6.50" height="64.30" fill="#a13848" stroke="none" stroke-width="1"/>
<rect x="42.40" y="484.50" width="5.50" height="63.30" fill="none" stroke="#93283a" stroke-width="1"/>
<rect x="49.90" y="501.80" width="6.60" height="46.50" fill="#79a862" stroke="none" stroke-width="1"/>
<rect x="50.40" y="502.30" width="5.60" height="45.50" fill="none" stroke="#6a9f4a" stroke-width="1"/>
<rect x="68.30" y="538.60" width="7.00" height="9.70" fill="#a13848" stroke="none" stroke-width="1"/>
<rect x="68.80" y="539.10" width="6.00" height="8.70" fill="none" stroke="#93283a" stroke-width="1"/>
<rect x="76.30" y="527.80" width="6.80" height="20.50" fill="#79a862" stroke="none" stroke-width="1"/>
<rect x="76.80" y="528.30" width="5.80" height="19.50" fill="none" stroke="#6a9f4a" stroke-width="1"/>
<rect x="94.30" y="543.00" width="7.00" height="5.30" fill="#a13848" stroke="none" stroke-width="1"/>
<rect x="94.80" y="543.50" width="6.00" height="4.30" fill="none" stroke="#93283a" stroke-width="1"/>
<rect x="102.40" y="535.60" width="6.70" height="12.70" fill="#79a862" stroke="none" stroke-width="1"/>
<rect x="102.90" y="536.10" width="5.70" height="11.70" fill="none" stroke="#6a9f4a" stroke-width="1"/>
<line x1="45.15" y1="482.50" x2="45.15" y2="484.00" stroke="#222" stroke-width="0.8"/>
<line x1="43.55" y1="482.50" x2="46.75" y2="482.50" stroke="#222" stroke-width="0.8"/>
<line x1="53.20" y1="500.00" x2="53.20" y2="501.80" stroke="#222" stroke-width="0.8"/>
<line x1="51.60" y1="500.00" x2="54.80" y2="500.00" stroke="#222" stroke-width="0.8"/>
<circle cx="52.25" cy="497.40" r="0.66" fill="#333"/>
<circle cx="54.15" cy="497.40" r="0.66" fill="#333"/>
<line x1="71.80" y1="537.50" x2="71.80" y2="538.60" stroke="#222" stroke-width="0.8"/>
<line x1="70.20" y1="537.50" x2="73.40" y2="537.50" stroke="#222" stroke-width="0.8"/>
<line x1="79.70" y1="526.50" x2="79.70" y2="527.80" stroke="#222" stroke-width="0.8"/>
<line x1="78.10" y1="526.50" x2="81.30" y2="526.50" stroke="#222" stroke-width="0.8"/>
<circle cx="79.70" cy="523.90" r="0.66" fill="#333"/>
<line x1="97.80" y1="542.00" x2="97.80" y2="543.00" stroke="#222" stroke-width="0.8"/>
<line x1="96.20" y1="542.00" x2="99.40" y2="542.00" stroke="#222" stroke-width="0.8"/>
<line x1="105.75" y1="534.00" x2="105.75" y2="535.60" stroke="#222" stroke-width="0.8"/>
<line x1="104.15" y1="534.00" x2="107.35" y2="534.00" stroke="#222" stroke-width="0.8"/>
<circle cx="104.80" cy="531.40" r="0.66" fill="#333"/>
<circle cx="106.70" cy="531.40" r="0.66" fill="#333"/>
<line x1="35.90" y1="466.80" x2="35.90" y2="548.80" stroke="#231f20" stroke-width="1.1"/>
<line x1="35.40" y1="548.30" x2="114.80" y2="548.30" stroke="#231f20" stroke-width="1.1"/>
<line x1="32.90" y1="469.60" x2="35.90" y2="469.60" stroke="#231f20" stroke-width="0.9"/>
<text x="30.70" y="471.80" font-size="6.5" text-anchor="end" fill="#333" stroke="#333" stroke-width="0.03">100</text>
<line x1="32.90" y1="485.40" x2="35.90" y2="485.40" stroke="#231f20" stroke-width="0.9"/>
<text x="30.70" y="487.60" font-size="6.5" text-anchor="end" fill="#333" stroke="#333" stroke-width="0.03">80</text>
<line x1="32.90" y1="501.20" x2="35.90" y2="501.20" stroke="#231f20" stroke-width="0.9"/>
<text x="30.70" y="503.40" font-size="6.5" text-anchor="end" fill="#333" stroke="#333" stroke-width="0.03">60</text>
<line x1="32.90" y1="517.00" x2="35.90" y2="517.00" stroke="#231f20" stroke-width="0.9"/>
<text x="30.70" y="519.20" font-size="6.5" text-anchor="end" fill="#333" stroke="#333" stroke-width="0.03">40</text>
<line x1="32.90" y1="532.90" x2="35.90" y2="532.90" stroke="#231f20" stroke-width="0.9"/>
<text x="30.70" y="535.10" font-size="6.5" text-anchor="end" fill="#333" stroke="#333" stroke-width="0.03">20</text>
<line x1="32.90" y1="548.30" x2="35.90" y2="548.30" stroke="#231f20" stroke-width="0.9"/>
<text x="30.70" y="550.50" font-size="6.5" text-anchor="end" fill="#333" stroke="#333" stroke-width="0.03">0</text>
<line x1="48.80" y1="548.30" x2="48.80" y2="550.50" stroke="#231f20" stroke-width="0.9"/>
<text x="48.80" y="560.40" font-size="7.6" text-anchor="middle" fill="#333" textLength="8.41" lengthAdjust="spacingAndGlyphs" stroke="#333" stroke-width="0.06">G0</text>
<line x1="75.30" y1="548.30" x2="75.30" y2="550.50" stroke="#231f20" stroke-width="0.9"/>
<text x="75.30" y="560.40" font-size="7.6" text-anchor="middle" fill="#333" textLength="8.41" lengthAdjust="spacingAndGlyphs" stroke="#333" stroke-width="0.06">G1</text>
<line x1="102.20" y1="548.30" x2="102.20" y2="550.50" stroke="#231f20" stroke-width="0.9"/>
<text x="102.20" y="560.40" font-size="7.6" text-anchor="middle" fill="#333" textLength="21.38" lengthAdjust="spacingAndGlyphs" stroke="#333" stroke-width="0.06">S/G2/M</text>
<circle cx="42.40" cy="471.90" r="0.66" fill="#333"/>
<text x="46.70" y="473.60" font-size="4.7" text-anchor="start" fill="#333" textLength="14.50" lengthAdjust="spacingAndGlyphs" stroke="#333" stroke-width="0.03">p&lt;0.05</text>
<circle cx="42.40" cy="478.10" r="0.66" fill="#333"/>
<circle cx="44.30" cy="478.10" r="0.66" fill="#333"/>
<text x="46.70" y="479.80" font-size="4.7" text-anchor="start" fill="#333" textLength="14.50" lengthAdjust="spacingAndGlyphs" stroke="#333" stroke-width="0.03">p&lt;0.01</text>
<text transform="translate(14.77,509.00) rotate(-90)" x="0" y="0" font-size="8.4" text-anchor="middle" fill="#231f20" stroke="#231f20" stroke-width="0.12" textLength="51.00" lengthAdjust="spacingAndGlyphs">Frequency (%)</text>
<text x="75.60" y="442.70" font-size="8.6" text-anchor="middle" fill="#231f20" textLength="24.20" lengthAdjust="spacingAndGlyphs" stroke="#231f20" stroke-width="0.13">LT-HSC</text>
<text x="42.90" y="452.60" font-size="8.6" text-anchor="start" fill="#231f20" textLength="39.32" lengthAdjust="spacingAndGlyphs" stroke="#231f20" stroke-width="0.13">LSK CD150</text>
<line x1="82.74" y1="447.96" x2="85.24" y2="447.96" stroke="#231f20" stroke-width="0.85"/>
<line x1="83.99" y1="446.71" x2="83.99" y2="449.21" stroke="#231f20" stroke-width="0.85"/>
<text x="86.65" y="452.60" font-size="8.6" text-anchor="start" fill="#231f20" textLength="19.40" lengthAdjust="spacingAndGlyphs" stroke="#231f20" stroke-width="0.13">CD48</text>
<line x1="106.31" y1="447.96" x2="108.11" y2="447.96" stroke="#231f20" stroke-width="0.85"/>
<rect x="157.60" y="459.40" width="12.90" height="2.60" fill="#a13848" stroke="none" stroke-width="1"/>
<text x="173.50" y="462.40" font-size="5.2" text-anchor="start" fill="#333" textLength="27.50" lengthAdjust="spacingAndGlyphs" font-family="Liberation Serif" stroke="#333" stroke-width="0.05">Floxed (n=3)</text>
<rect x="210.10" y="459.40" width="12.70" height="2.60" fill="#79a862" stroke="none" stroke-width="1"/>
<text x="226.00" y="462.40" font-size="5.2" text-anchor="start" fill="#333" textLength="20.50" lengthAdjust="spacingAndGlyphs" font-family="Liberation Serif" stroke="#333" stroke-width="0.05">KO (n=3)</text>
<rect x="169.00" y="487.00" width="6.50" height="61.30" fill="#a13848" stroke="none" stroke-width="1"/>
<rect x="169.50" y="487.50" width="5.50" height="60.30" fill="none" stroke="#93283a" stroke-width="1"/>
<rect x="177.00" y="500.70" width="6.80" height="47.60" fill="#79a862" stroke="none" stroke-width="1"/>
<rect x="177.50" y="501.20" width="5.80" height="46.60" fill="none" stroke="#6a9f4a" stroke-width="1"/>
<rect x="195.40" y="539.90" width="6.60" height="8.40" fill="#a13848" stroke="none" stroke-width="1"/>
<rect x="195.90" y="540.40" width="5.60" height="7.40" fill="none" stroke="#93283a" stroke-width="1"/>
<rect x="203.00" y="539.20" width="6.80" height="9.10" fill="#79a862" stroke="none" stroke-width="1"/>
<rect x="203.50" y="539.70" width="5.80" height="8.10" fill="none" stroke="#6a9f4a" stroke-width="1"/>
<rect x="221.90" y="540.70" width="6.30" height="7.60" fill="#a13848" stroke="none" stroke-width="1"/>
<rect x="222.40" y="541.20" width="5.30" height="6.60" fill="none" stroke="#93283a" stroke-width="1"/>
<rect x="229.30" y="528.20" width="7.00" height="20.10" fill="#79a862" stroke="none" stroke-width="1"/>
<rect x="229.80" y="528.70" width="6.00" height="19.10" fill="none" stroke="#6a9f4a" stroke-width="1"/>
<line x1="172.25" y1="485.30" x2="172.25" y2="487.00" stroke="#222" stroke-width="0.8"/>
<line x1="170.65" y1="485.30" x2="173.85" y2="485.30" stroke="#222" stroke-width="0.8"/>
<line x1="180.40" y1="499.00" x2="180.40" y2="500.70" stroke="#222" stroke-width="0.8"/>
<line x1="178.80" y1="499.00" x2="182.00" y2="499.00" stroke="#222" stroke-width="0.8"/>
<circle cx="179.45" cy="496.40" r="0.66" fill="#333"/>
<circle cx="181.35" cy="496.40" r="0.66" fill="#333"/>
<line x1="198.70" y1="539.00" x2="198.70" y2="539.90" stroke="#222" stroke-width="0.8"/>
<line x1="197.10" y1="539.00" x2="200.30" y2="539.00" stroke="#222" stroke-width="0.8"/>
<line x1="206.40" y1="538.40" x2="206.40" y2="539.20" stroke="#222" stroke-width="0.8"/>
<line x1="204.80" y1="538.40" x2="208.00" y2="538.40" stroke="#222" stroke-width="0.8"/>
<line x1="225.05" y1="539.80" x2="225.05" y2="540.70" stroke="#222" stroke-width="0.8"/>
<line x1="223.45" y1="539.80" x2="226.65" y2="539.80" stroke="#222" stroke-width="0.8"/>
<line x1="232.80" y1="526.80" x2="232.80" y2="528.20" stroke="#222" stroke-width="0.8"/>
<line x1="231.20" y1="526.80" x2="234.40" y2="526.80" stroke="#222" stroke-width="0.8"/>
<circle cx="231.85" cy="524.20" r="0.66" fill="#333"/>
<circle cx="233.75" cy="524.20" r="0.66" fill="#333"/>
<line x1="163.10" y1="467.00" x2="163.10" y2="548.80" stroke="#231f20" stroke-width="1.1"/>
<line x1="162.60" y1="548.30" x2="242.60" y2="548.30" stroke="#231f20" stroke-width="1.1"/>
<line x1="160.10" y1="469.40" x2="163.10" y2="469.40" stroke="#231f20" stroke-width="0.9"/>
<text x="156.80" y="471.60" font-size="6.5" text-anchor="end" fill="#333" stroke="#333" stroke-width="0.03">100</text>
<line x1="160.10" y1="485.30" x2="163.10" y2="485.30" stroke="#231f20" stroke-width="0.9"/>
<text x="156.80" y="487.50" font-size="6.5" text-anchor="end" fill="#333" stroke="#333" stroke-width="0.03">80</text>
<line x1="160.10" y1="501.20" x2="163.10" y2="501.20" stroke="#231f20" stroke-width="0.9"/>
<text x="156.80" y="503.40" font-size="6.5" text-anchor="end" fill="#333" stroke="#333" stroke-width="0.03">60</text>
<line x1="160.10" y1="517.00" x2="163.10" y2="517.00" stroke="#231f20" stroke-width="0.9"/>
<text x="156.80" y="519.20" font-size="6.5" text-anchor="end" fill="#333" stroke="#333" stroke-width="0.03">40</text>
<line x1="160.10" y1="532.90" x2="163.10" y2="532.90" stroke="#231f20" stroke-width="0.9"/>
<text x="156.80" y="535.10" font-size="6.5" text-anchor="end" fill="#333" stroke="#333" stroke-width="0.03">20</text>
<line x1="160.10" y1="548.30" x2="163.10" y2="548.30" stroke="#231f20" stroke-width="0.9"/>
<text x="156.80" y="550.50" font-size="6.5" text-anchor="end" fill="#333" stroke="#333" stroke-width="0.03">0</text>
<line x1="176.40" y1="548.30" x2="176.40" y2="550.50" stroke="#231f20" stroke-width="0.9"/>
<text x="176.40" y="560.40" font-size="7.6" text-anchor="middle" fill="#333" textLength="8.41" lengthAdjust="spacingAndGlyphs" stroke="#333" stroke-width="0.06">G0</text>
<line x1="202.00" y1="548.30" x2="202.00" y2="550.50" stroke="#231f20" stroke-width="0.9"/>
<text x="202.00" y="560.40" font-size="7.6" text-anchor="middle" fill="#333" textLength="8.41" lengthAdjust="spacingAndGlyphs" stroke="#333" stroke-width="0.06">G1</text>
<line x1="228.90" y1="548.30" x2="228.90" y2="550.50" stroke="#231f20" stroke-width="0.9"/>
<text x="228.90" y="560.40" font-size="7.6" text-anchor="middle" fill="#333" textLength="21.38" lengthAdjust="spacingAndGlyphs" stroke="#333" stroke-width="0.06">S/G2/M</text>
<circle cx="167.60" cy="474.80" r="0.66" fill="#333"/>
<circle cx="169.50" cy="474.80" r="0.66" fill="#333"/>
<text x="171.90" y="476.50" font-size="4.7" text-anchor="start" fill="#333" textLength="14.90" lengthAdjust="spacingAndGlyphs" stroke="#333" stroke-width="0.03">p&lt;0.01</text>
<text transform="translate(141.97,509.00) rotate(-90)" x="0" y="0" font-size="8.4" text-anchor="middle" fill="#231f20" stroke="#231f20" stroke-width="0.12" textLength="50.00" lengthAdjust="spacingAndGlyphs">Frequency (%)</text>
<text x="202.70" y="442.80" font-size="8.6" text-anchor="middle" fill="#231f20" textLength="25.00" lengthAdjust="spacingAndGlyphs" stroke="#231f20" stroke-width="0.13">ST-HSC</text>
<text x="171.40" y="452.70" font-size="8.6" text-anchor="start" fill="#231f20" textLength="38.29" lengthAdjust="spacingAndGlyphs" stroke="#231f20" stroke-width="0.13">LSK CD150</text>
<line x1="210.20" y1="448.06" x2="212.20" y2="448.06" stroke="#231f20" stroke-width="0.85"/>
<text x="214.00" y="452.70" font-size="8.6" text-anchor="start" fill="#231f20" textLength="18.89" lengthAdjust="spacingAndGlyphs" stroke="#231f20" stroke-width="0.13">CD48</text>
<line x1="233.15" y1="448.06" x2="234.95" y2="448.06" stroke="#231f20" stroke-width="0.85"/>
<rect x="281.20" y="459.80" width="13.10" height="2.60" fill="#a13848" stroke="none" stroke-width="1"/>
<text x="297.00" y="462.80" font-size="5.2" text-anchor="start" fill="#333" textLength="27.50" lengthAdjust="spacingAndGlyphs" font-family="Liberation Serif" stroke="#333" stroke-width="0.05">Floxed (n=3)</text>
<rect x="333.60" y="459.80" width="13.10" height="2.60" fill="#79a862" stroke="none" stroke-width="1"/>
<text x="348.90" y="462.80" font-size="5.2" text-anchor="start" fill="#333" textLength="20.50" lengthAdjust="spacingAndGlyphs" font-family="Liberation Serif" stroke="#333" stroke-width="0.05">KO (n=3)</text>
<rect x="292.50" y="485.30" width="6.80" height="63.00" fill="#a13848" stroke="none" stroke-width="1"/>
<rect x="293.00" y="485.80" width="5.80" height="62.00" fill="none" stroke="#93283a" stroke-width="1"/>
<rect x="301.00" y="502.80" width="6.30" height="45.50" fill="#79a862" stroke="none" stroke-width="1"/>
<rect x="301.50" y="503.30" width="5.30" height="44.50" fill="none" stroke="#6a9f4a" stroke-width="1"/>
<rect x="318.90" y="527.60" width="6.80" height="20.70" fill="#a13848" stroke="none" stroke-width="1"/>
<rect x="319.40" y="528.10" width="5.80" height="19.70" fill="none" stroke="#93283a" stroke-width="1"/>
<rect x="326.80" y="520.80" width="7.00" height="27.50" fill="#79a862" stroke="none" stroke-width="1"/>
<rect x="327.30" y="521.30" width="6.00" height="26.50" fill="none" stroke="#6a9f4a" stroke-width="1"/>
<rect x="345.00" y="533.50" width="6.70" height="14.80" fill="#a13848" stroke="none" stroke-width="1"/>
<rect x="345.50" y="534.00" width="5.70" height="13.80" fill="none" stroke="#93283a" stroke-width="1"/>
<rect x="352.80" y="522.30" width="7.00" height="26.00" fill="#79a862" stroke="none" stroke-width="1"/>
<rect x="353.30" y="522.80" width="6.00" height="25.00" fill="none" stroke="#6a9f4a" stroke-width="1"/>
<line x1="295.90" y1="482.20" x2="295.90" y2="485.30" stroke="#222" stroke-width="0.8"/>
<line x1="294.30" y1="482.20" x2="297.50" y2="482.20" stroke="#222" stroke-width="0.8"/>
<line x1="304.15" y1="500.50" x2="304.15" y2="502.80" stroke="#222" stroke-width="0.8"/>
<line x1="302.55" y1="500.50" x2="305.75" y2="500.50" stroke="#222" stroke-width="0.8"/>
<circle cx="303.20" cy="497.90" r="0.66" fill="#333"/>
<circle cx="305.10" cy="497.90" r="0.66" fill="#333"/>
<line x1="322.30" y1="523.40" x2="322.30" y2="527.60" stroke="#222" stroke-width="0.8"/>
<line x1="320.70" y1="523.40" x2="323.90" y2="523.40" stroke="#222" stroke-width="0.8"/>
<line x1="330.30" y1="519.80" x2="330.30" y2="520.80" stroke="#222" stroke-width="0.8"/>
<line x1="328.70" y1="519.80" x2="331.90" y2="519.80" stroke="#222" stroke-width="0.8"/>
<line x1="348.35" y1="532.00" x2="348.35" y2="533.50" stroke="#222" stroke-width="0.8"/>
<line x1="346.75" y1="532.00" x2="349.95" y2="532.00" stroke="#222" stroke-width="0.8"/>
<line x1="356.30" y1="520.80" x2="356.30" y2="522.30" stroke="#222" stroke-width="0.8"/>
<line x1="354.70" y1="520.80" x2="357.90" y2="520.80" stroke="#222" stroke-width="0.8"/>
<circle cx="355.35" cy="518.20" r="0.66" fill="#333"/>
<circle cx="357.25" cy="518.20" r="0.66" fill="#333"/>
<line x1="287.00" y1="466.80" x2="287.00" y2="548.80" stroke="#231f20" stroke-width="1.1"/>
<line x1="286.50" y1="548.30" x2="365.50" y2="548.30" stroke="#231f20" stroke-width="1.1"/>
<line x1="284.00" y1="469.60" x2="287.00" y2="469.60" stroke="#231f20" stroke-width="0.9"/>
<text x="281.80" y="471.80" font-size="6.5" text-anchor="end" fill="#333" stroke="#333" stroke-width="0.03">80</text>
<line x1="284.00" y1="489.40" x2="287.00" y2="489.40" stroke="#231f20" stroke-width="0.9"/>
<text x="281.80" y="491.60" font-size="6.5" text-anchor="end" fill="#333" stroke="#333" stroke-width="0.03">60</text>
<line x1="284.00" y1="509.20" x2="287.00" y2="509.20" stroke="#231f20" stroke-width="0.9"/>
<text x="281.80" y="511.40" font-size="6.5" text-anchor="end" fill="#333" stroke="#333" stroke-width="0.03">40</text>
<line x1="284.00" y1="529.10" x2="287.00" y2="529.10" stroke="#231f20" stroke-width="0.9"/>
<text x="281.80" y="531.30" font-size="6.5" text-anchor="end" fill="#333" stroke="#333" stroke-width="0.03">20</text>
<line x1="284.00" y1="548.30" x2="287.00" y2="548.30" stroke="#231f20" stroke-width="0.9"/>
<text x="281.80" y="550.50" font-size="6.5" text-anchor="end" fill="#333" stroke="#333" stroke-width="0.03">0</text>
<line x1="299.90" y1="548.30" x2="299.90" y2="550.50" stroke="#231f20" stroke-width="0.9"/>
<text x="299.90" y="560.40" font-size="7.6" text-anchor="middle" fill="#333" textLength="8.41" lengthAdjust="spacingAndGlyphs" stroke="#333" stroke-width="0.06">G0</text>
<line x1="325.90" y1="548.30" x2="325.90" y2="550.50" stroke="#231f20" stroke-width="0.9"/>
<text x="325.90" y="560.40" font-size="7.6" text-anchor="middle" fill="#333" textLength="8.41" lengthAdjust="spacingAndGlyphs" stroke="#333" stroke-width="0.06">G1</text>
<line x1="352.20" y1="548.30" x2="352.20" y2="550.50" stroke="#231f20" stroke-width="0.9"/>
<text x="352.20" y="560.40" font-size="7.6" text-anchor="middle" fill="#333" textLength="21.38" lengthAdjust="spacingAndGlyphs" stroke="#333" stroke-width="0.06">S/G2/M</text>
<circle cx="292.20" cy="474.80" r="0.66" fill="#333"/>
<circle cx="294.10" cy="474.80" r="0.66" fill="#333"/>
<text x="296.50" y="476.50" font-size="4.7" text-anchor="start" fill="#333" textLength="15.30" lengthAdjust="spacingAndGlyphs" stroke="#333" stroke-width="0.03">p&lt;0.01</text>
<text transform="translate(268.77,509.00) rotate(-90)" x="0" y="0" font-size="8.4" text-anchor="middle" fill="#231f20" stroke="#231f20" stroke-width="0.12" textLength="51.00" lengthAdjust="spacingAndGlyphs">Frequency (%)</text>
<text x="326.40" y="442.70" font-size="8.6" text-anchor="middle" fill="#231f20" textLength="15.20" lengthAdjust="spacingAndGlyphs" stroke="#231f20" stroke-width="0.13">MPP</text>
<text x="293.80" y="452.70" font-size="8.6" text-anchor="start" fill="#231f20" textLength="38.47" lengthAdjust="spacingAndGlyphs" stroke="#231f20" stroke-width="0.13">LSK CD150</text>
<line x1="332.78" y1="448.06" x2="334.78" y2="448.06" stroke="#231f20" stroke-width="0.85"/>
<text x="336.61" y="452.70" font-size="8.6" text-anchor="start" fill="#231f20" textLength="18.98" lengthAdjust="spacingAndGlyphs" stroke="#231f20" stroke-width="0.13">CD48</text>
<line x1="355.84" y1="448.06" x2="358.34" y2="448.06" stroke="#231f20" stroke-width="0.85"/>
<line x1="357.09" y1="446.81" x2="357.09" y2="449.31" stroke="#231f20" stroke-width="0.85"/>
<rect x="0" y="0" width="520" height="1" fill="#505050"/>
<rect x="0" y="1" width="520" height="1" fill="#c8c8c8"/>
<rect x="0" y="0" width="1" height="572" fill="#000"/>
<rect x="1" y="0" width="1" height="572" fill="#aaa"/>
<rect x="518" y="0" width="2" height="572" fill="#444"/>
<rect x="0" y="570" width="520" height="2" fill="#444"/>
</svg></body></html>
